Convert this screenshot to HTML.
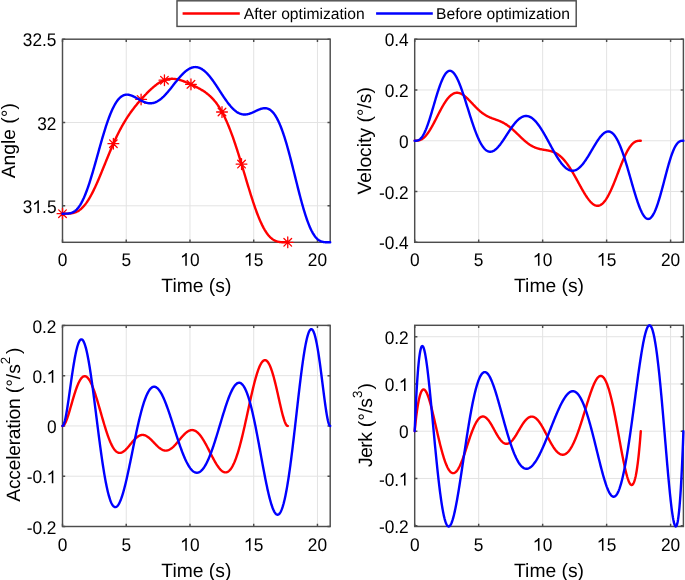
<!DOCTYPE html>
<html><head><meta charset="utf-8"><style>
html,body{margin:0;padding:0;background:#fff;}
svg{display:block;will-change:transform;}
text{font-family:"Liberation Sans", sans-serif; font-size:17.3px; fill:#000; text-rendering:geometricPrecision;}
</style></head><body>
<svg width="685" height="580" viewBox="0 0 685 580">
<rect width="685" height="580" fill="#fff"/>
<line x1="126.24" y1="39.2" x2="126.24" y2="242.3" stroke="#e3e3e3" stroke-width="1"/>
<line x1="189.98" y1="39.2" x2="189.98" y2="242.3" stroke="#e3e3e3" stroke-width="1"/>
<line x1="253.71" y1="39.2" x2="253.71" y2="242.3" stroke="#e3e3e3" stroke-width="1"/>
<line x1="317.45" y1="39.2" x2="317.45" y2="242.3" stroke="#e3e3e3" stroke-width="1"/>
<line x1="62.5" y1="205.80" x2="330.2" y2="205.80" stroke="#e3e3e3" stroke-width="1"/>
<line x1="62.5" y1="122.50" x2="330.2" y2="122.50" stroke="#e3e3e3" stroke-width="1"/>
<rect x="62.5" y="39.2" width="267.70" height="203.10" fill="none" stroke="#4d4d4d" stroke-width="1.45"/>
<path d="M62.50,242.3v-2.7M62.50,39.2v2.7M126.24,242.3v-2.7M126.24,39.2v2.7M189.98,242.3v-2.7M189.98,39.2v2.7M253.71,242.3v-2.7M253.71,39.2v2.7M317.45,242.3v-2.7M317.45,39.2v2.7M62.5,205.80h2.7M330.2,205.80h-2.7M62.5,122.50h2.7M330.2,122.50h-2.7M62.5,39.20h2.7M330.2,39.20h-2.7" stroke="#4d4d4d" stroke-width="1.45"/>
<clipPath id="csp1"><rect x="60.5" y="37.2" width="271.7" height="207.10000000000002"/></clipPath>
<polyline clip-path="url(#csp1)" points="62.50,213.68 62.88,213.68 63.25,213.68 63.63,213.68 64.00,213.68 64.38,213.68 64.76,213.68 65.13,213.68 65.51,213.67 65.88,213.67 66.26,213.66 66.64,213.66 67.01,213.65 67.39,213.64 67.76,213.63 68.14,213.61 68.52,213.60 68.89,213.58 69.27,213.55 69.64,213.52 70.02,213.49 70.40,213.45 70.77,213.41 71.15,213.36 71.53,213.30 71.90,213.24 72.28,213.17 72.65,213.10 73.03,213.02 73.41,212.93 73.78,212.83 74.16,212.72 74.53,212.60 74.91,212.48 75.29,212.35 75.66,212.20 76.04,212.05 76.41,211.88 76.79,211.71 77.17,211.52 77.54,211.32 77.92,211.11 78.29,210.89 78.67,210.65 79.05,210.41 79.42,210.15 79.80,209.87 80.17,209.59 80.55,209.29 80.93,208.98 81.30,208.65 81.68,208.31 82.05,207.96 82.43,207.59 82.81,207.21 83.18,206.81 83.56,206.40 83.93,205.98 84.31,205.54 84.69,205.09 85.06,204.62 85.44,204.14 85.81,203.64 86.19,203.13 86.57,202.61 86.94,202.07 87.32,201.52 87.69,200.95 88.07,200.37 88.45,199.77 88.82,199.17 89.20,198.55 89.58,197.91 89.95,197.26 90.33,196.60 90.70,195.93 91.08,195.24 91.46,194.54 91.83,193.83 92.21,193.11 92.58,192.38 92.96,191.63 93.34,190.88 93.71,190.11 94.09,189.33 94.46,188.54 94.84,187.75 95.22,186.94 95.59,186.12 95.97,185.30 96.34,184.46 96.72,183.62 97.10,182.77 97.47,181.91 97.85,181.05 98.22,180.18 98.60,179.30 98.98,178.42 99.35,177.53 99.73,176.63 100.10,175.73 100.48,174.83 100.86,173.92 101.23,173.01 101.61,172.09 101.98,171.17 102.36,170.25 102.74,169.33 103.11,168.40 103.49,167.48 103.86,166.55 104.24,165.62 104.62,164.69 104.99,163.76 105.37,162.83 105.75,161.90 106.12,160.98 106.50,160.05 106.87,159.13 107.25,158.20 107.63,157.28 108.00,156.37 108.38,155.45 108.75,154.54 109.13,153.63 109.51,152.73 109.88,151.83 110.26,150.93 110.63,150.04 111.01,149.16 111.39,148.28 111.76,147.40 112.14,146.53 112.51,145.67 112.89,144.81 113.27,143.95 113.64,143.11 114.02,142.27 114.39,141.44 114.77,140.61 115.15,139.79 115.52,138.98 115.90,138.17 116.27,137.38 116.65,136.59 117.03,135.80 117.40,135.03 117.78,134.26 118.15,133.50 118.53,132.75 118.91,132.00 119.28,131.27 119.66,130.54 120.03,129.82 120.41,129.10 120.79,128.40 121.16,127.70 121.54,127.01 121.91,126.32 122.29,125.65 122.67,124.98 123.04,124.32 123.42,123.67 123.80,123.02 124.17,122.39 124.55,121.76 124.92,121.13 125.30,120.52 125.68,119.91 126.05,119.30 126.43,118.71 126.80,118.12 127.18,117.54 127.56,116.96 127.93,116.39 128.31,115.83 128.68,115.27 129.06,114.72 129.44,114.17 129.81,113.63 130.19,113.09 130.56,112.56 130.94,112.04 131.32,111.52 131.69,111.01 132.07,110.50 132.44,109.99 132.82,109.49 133.20,109.00 133.57,108.50 133.95,108.02 134.32,107.53 134.70,107.06 135.08,106.58 135.45,106.11 135.83,105.64 136.20,105.18 136.58,104.71 136.96,104.26 137.33,103.80 137.71,103.35 138.08,102.90 138.46,102.46 138.84,102.02 139.21,101.58 139.59,101.14 139.97,100.71 140.34,100.27 140.72,99.85 141.09,99.42 141.47,99.00 141.85,98.58 142.22,98.16 142.60,97.74 142.97,97.33 143.35,96.92 143.73,96.51 144.10,96.11 144.48,95.71 144.85,95.31 145.23,94.91 145.61,94.52 145.98,94.12 146.36,93.74 146.73,93.35 147.11,92.97 147.49,92.59 147.86,92.21 148.24,91.84 148.61,91.47 148.99,91.10 149.37,90.74 149.74,90.38 150.12,90.02 150.49,89.67 150.87,89.32 151.25,88.97 151.62,88.63 152.00,88.30 152.37,87.96 152.75,87.64 153.13,87.31 153.50,86.99 153.88,86.68 154.25,86.37 154.63,86.06 155.01,85.76 155.38,85.47 155.76,85.18 156.13,84.90 156.51,84.62 156.89,84.34 157.26,84.08 157.64,83.82 158.02,83.56 158.39,83.31 158.77,83.07 159.14,82.83 159.52,82.60 159.90,82.37 160.27,82.15 160.65,81.94 161.02,81.74 161.40,81.54 161.78,81.35 162.15,81.16 162.53,80.98 162.90,80.81 163.28,80.65 163.66,80.49 164.03,80.34 164.41,80.20 164.78,80.06 165.16,79.93 165.54,79.81 165.91,79.69 166.29,79.59 166.66,79.48 167.04,79.39 167.42,79.30 167.79,79.22 168.17,79.15 168.54,79.09 168.92,79.03 169.30,78.98 169.67,78.93 170.05,78.89 170.42,78.86 170.80,78.84 171.18,78.82 171.55,78.81 171.93,78.80 172.30,78.80 172.68,78.81 173.06,78.83 173.43,78.85 173.81,78.87 174.19,78.90 174.56,78.94 174.94,78.98 175.31,79.03 175.69,79.09 176.07,79.15 176.44,79.21 176.82,79.28 177.19,79.35 177.57,79.43 177.95,79.52 178.32,79.61 178.70,79.70 179.07,79.80 179.45,79.90 179.83,80.00 180.20,80.11 180.58,80.22 180.95,80.34 181.33,80.46 181.71,80.58 182.08,80.71 182.46,80.84 182.83,80.97 183.21,81.11 183.59,81.25 183.96,81.39 184.34,81.53 184.71,81.68 185.09,81.82 185.47,81.97 185.84,82.13 186.22,82.28 186.59,82.44 186.97,82.59 187.35,82.75 187.72,82.92 188.10,83.08 188.47,83.24 188.85,83.41 189.23,83.58 189.60,83.75 189.98,83.92 190.36,84.09 190.73,84.26 191.11,84.43 191.48,84.61 191.86,84.79 192.24,84.96 192.61,85.14 192.99,85.32 193.36,85.50 193.74,85.69 194.12,85.87 194.49,86.05 194.87,86.24 195.24,86.43 195.62,86.62 196.00,86.81 196.37,87.00 196.75,87.19 197.12,87.39 197.50,87.59 197.88,87.78 198.25,87.99 198.63,88.19 199.00,88.39 199.38,88.60 199.76,88.81 200.13,89.02 200.51,89.24 200.88,89.46 201.26,89.68 201.64,89.90 202.01,90.13 202.39,90.36 202.76,90.60 203.14,90.84 203.52,91.08 203.89,91.32 204.27,91.57 204.64,91.83 205.02,92.09 205.40,92.35 205.77,92.62 206.15,92.90 206.52,93.18 206.90,93.47 207.28,93.76 207.65,94.06 208.03,94.36 208.41,94.67 208.78,94.99 209.16,95.31 209.53,95.65 209.91,95.98 210.29,96.33 210.66,96.69 211.04,97.05 211.41,97.42 211.79,97.80 212.17,98.18 212.54,98.58 212.92,98.99 213.29,99.40 213.67,99.82 214.05,100.26 214.42,100.70 214.80,101.15 215.17,101.62 215.55,102.09 215.93,102.58 216.30,103.07 216.68,103.58 217.05,104.09 217.43,104.62 217.81,105.16 218.18,105.71 218.56,106.28 218.93,106.85 219.31,107.44 219.69,108.04 220.06,108.65 220.44,109.28 220.81,109.91 221.19,110.56 221.57,111.23 221.94,111.90 222.32,112.59 222.69,113.29 223.07,114.01 223.45,114.74 223.82,115.48 224.20,116.23 224.58,117.00 224.95,117.78 225.33,118.57 225.70,119.38 226.08,120.20 226.46,121.04 226.83,121.88 227.21,122.75 227.58,123.62 227.96,124.51 228.34,125.41 228.71,126.32 229.09,127.25 229.46,128.19 229.84,129.14 230.22,130.11 230.59,131.09 230.97,132.08 231.34,133.08 231.72,134.10 232.10,135.12 232.47,136.16 232.85,137.21 233.22,138.27 233.60,139.35 233.98,140.43 234.35,141.53 234.73,142.63 235.10,143.75 235.48,144.87 235.86,146.01 236.23,147.15 236.61,148.31 236.98,149.47 237.36,150.64 237.74,151.82 238.11,153.01 238.49,154.20 238.86,155.40 239.24,156.61 239.62,157.83 239.99,159.05 240.37,160.27 240.74,161.50 241.12,162.74 241.50,163.98 241.87,165.23 242.25,166.47 242.63,167.72 243.00,168.98 243.38,170.23 243.75,171.49 244.13,172.75 244.51,174.01 244.88,175.27 245.26,176.52 245.63,177.78 246.01,179.04 246.39,180.29 246.76,181.55 247.14,182.80 247.51,184.04 247.89,185.29 248.27,186.53 248.64,187.76 249.02,188.99 249.39,190.21 249.77,191.43 250.15,192.64 250.52,193.84 250.90,195.04 251.27,196.22 251.65,197.40 252.03,198.57 252.40,199.73 252.78,200.88 253.15,202.02 253.53,203.15 253.91,204.26 254.28,205.37 254.66,206.46 255.03,207.54 255.41,208.60 255.79,209.66 256.16,210.70 256.54,211.72 256.91,212.73 257.29,213.73 257.67,214.70 258.04,215.67 258.42,216.62 258.80,217.55 259.17,218.46 259.55,219.36 259.92,220.24 260.30,221.11 260.68,221.95 261.05,222.78 261.43,223.59 261.80,224.38 262.18,225.16 262.56,225.91 262.93,226.65 263.31,227.37 263.68,228.07 264.06,228.75 264.44,229.41 264.81,230.05 265.19,230.67 265.56,231.28 265.94,231.86 266.32,232.43 266.69,232.98 267.07,233.51 267.44,234.02 267.82,234.51 268.20,234.98 268.57,235.44 268.95,235.87 269.32,236.29 269.70,236.69 270.08,237.08 270.45,237.44 270.83,237.79 271.20,238.13 271.58,238.44 271.96,238.74 272.33,239.03 272.71,239.30 273.08,239.55 273.46,239.79 273.84,240.01 274.21,240.23 274.59,240.42 274.96,240.61 275.34,240.78 275.72,240.94 276.09,241.08 276.47,241.22 276.85,241.35 277.22,241.46 277.60,241.56 277.97,241.66 278.35,241.75 278.73,241.82 279.10,241.89 279.48,241.96 279.85,242.01 280.23,242.06 280.61,242.10 280.98,242.14 281.36,242.17 281.73,242.20 282.11,242.22 282.49,242.24 282.86,242.25 283.24,242.27 283.61,242.28 283.99,242.28 284.37,242.29 284.74,242.29 285.12,242.30 285.49,242.30 285.87,242.30 286.25,242.30 286.62,242.30 287.00,242.30 287.37,242.30 287.75,242.30" fill="none" stroke="#ff0000" stroke-width="2.4" stroke-linejoin="round" stroke-linecap="round"/>
<path d="M57.10,213.68H67.90M62.50,208.28V219.08M58.68,209.86L66.32,217.50M58.68,217.50L66.32,209.86M107.98,143.71H118.78M113.38,138.31V149.11M109.56,139.89L117.19,147.53M109.56,147.53L117.19,139.89M135.69,99.43H146.49M141.09,94.03V104.83M137.27,95.61L144.91,103.24M137.27,103.24L144.91,95.61M159.04,80.18H169.84M164.44,74.78V85.58M160.62,76.36L168.26,84.00M160.62,84.00L168.26,76.36M185.56,84.36H196.36M190.96,78.96V89.76M187.14,80.55L194.78,88.18M187.14,88.18L194.78,80.55M216.60,112.00H227.40M222.00,106.60V117.40M218.18,108.19L225.82,115.82M218.18,115.82L225.82,108.19M236.13,164.08H246.93M241.53,158.68V169.48M237.71,160.26L245.35,167.90M237.71,167.90L245.35,160.26M282.35,242.30H293.15M287.75,236.90V247.70M283.93,238.48L291.57,246.12M283.93,246.12L291.57,238.48" stroke="#ff0000" stroke-width="1.3" stroke-linecap="round" fill="none"/>
<polyline clip-path="url(#csp1)" points="62.50,213.68 62.88,213.68 63.27,213.68 63.65,213.68 64.03,213.68 64.41,213.68 64.80,213.67 65.18,213.67 65.56,213.66 65.95,213.66 66.33,213.64 66.71,213.63 67.10,213.61 67.48,213.59 67.86,213.56 68.24,213.52 68.63,213.48 69.01,213.42 69.39,213.36 69.78,213.29 70.16,213.21 70.54,213.12 70.93,213.02 71.31,212.90 71.69,212.77 72.07,212.62 72.46,212.46 72.84,212.29 73.22,212.09 73.61,211.88 73.99,211.65 74.37,211.41 74.76,211.14 75.14,210.85 75.52,210.54 75.90,210.21 76.29,209.86 76.67,209.49 77.05,209.09 77.44,208.67 77.82,208.22 78.20,207.76 78.58,207.26 78.97,206.74 79.35,206.20 79.73,205.63 80.12,205.04 80.50,204.42 80.88,203.77 81.27,203.10 81.65,202.40 82.03,201.68 82.41,200.93 82.80,200.16 83.18,199.36 83.56,198.53 83.95,197.68 84.33,196.80 84.71,195.90 85.10,194.97 85.48,194.03 85.86,193.05 86.24,192.05 86.63,191.03 87.01,189.99 87.39,188.93 87.78,187.84 88.16,186.74 88.54,185.61 88.93,184.46 89.31,183.30 89.69,182.12 90.07,180.92 90.46,179.70 90.84,178.46 91.22,177.22 91.61,175.95 91.99,174.68 92.37,173.39 92.76,172.08 93.14,170.77 93.52,169.45 93.90,168.11 94.29,166.77 94.67,165.42 95.05,164.07 95.44,162.70 95.82,161.34 96.20,159.96 96.58,158.59 96.97,157.21 97.35,155.83 97.73,154.46 98.12,153.08 98.50,151.70 98.88,150.32 99.27,148.95 99.65,147.59 100.03,146.22 100.41,144.87 100.80,143.51 101.18,142.17 101.56,140.84 101.95,139.51 102.33,138.19 102.71,136.89 103.10,135.59 103.48,134.31 103.86,133.04 104.24,131.79 104.63,130.55 105.01,129.32 105.39,128.11 105.78,126.92 106.16,125.74 106.54,124.58 106.93,123.43 107.31,122.31 107.69,121.21 108.07,120.12 108.46,119.06 108.84,118.01 109.22,116.99 109.61,115.98 109.99,115.00 110.37,114.04 110.75,113.11 111.14,112.19 111.52,111.30 111.90,110.43 112.29,109.59 112.67,108.76 113.05,107.97 113.44,107.19 113.82,106.44 114.20,105.72 114.58,105.01 114.97,104.34 115.35,103.68 115.73,103.05 116.12,102.45 116.50,101.87 116.88,101.31 117.27,100.78 117.65,100.27 118.03,99.79 118.41,99.33 118.80,98.89 119.18,98.48 119.56,98.08 119.95,97.72 120.33,97.37 120.71,97.05 121.10,96.75 121.48,96.47 121.86,96.21 122.24,95.98 122.63,95.76 123.01,95.57 123.39,95.39 123.78,95.24 124.16,95.10 124.54,94.98 124.93,94.88 125.31,94.80 125.69,94.74 126.07,94.70 126.46,94.67 126.84,94.65 127.22,94.65 127.61,94.67 127.99,94.70 128.37,94.75 128.75,94.81 129.14,94.88 129.52,94.97 129.90,95.06 130.29,95.17 130.67,95.29 131.05,95.42 131.44,95.56 131.82,95.70 132.20,95.86 132.58,96.02 132.97,96.19 133.35,96.37 133.73,96.56 134.12,96.75 134.50,96.94 134.88,97.14 135.27,97.35 135.65,97.55 136.03,97.76 136.41,97.98 136.80,98.19 137.18,98.41 137.56,98.62 137.95,98.84 138.33,99.06 138.71,99.27 139.10,99.49 139.48,99.70 139.86,99.91 140.24,100.12 140.63,100.32 141.01,100.52 141.39,100.72 141.78,100.91 142.16,101.10 142.54,101.28 142.92,101.46 143.31,101.63 143.69,101.80 144.07,101.95 144.46,102.10 144.84,102.25 145.22,102.38 145.61,102.51 145.99,102.63 146.37,102.74 146.75,102.84 147.14,102.93 147.52,103.01 147.90,103.08 148.29,103.14 148.67,103.20 149.05,103.24 149.44,103.27 149.82,103.29 150.20,103.30 150.58,103.30 150.97,103.28 151.35,103.26 151.73,103.22 152.12,103.18 152.50,103.12 152.88,103.05 153.27,102.97 153.65,102.87 154.03,102.77 154.41,102.65 154.80,102.52 155.18,102.38 155.56,102.23 155.95,102.07 156.33,101.89 156.71,101.70 157.09,101.50 157.48,101.30 157.86,101.07 158.24,100.84 158.63,100.60 159.01,100.34 159.39,100.08 159.78,99.80 160.16,99.52 160.54,99.22 160.92,98.92 161.31,98.60 161.69,98.27 162.07,97.94 162.46,97.59 162.84,97.24 163.22,96.88 163.61,96.51 163.99,96.13 164.37,95.74 164.75,95.34 165.14,94.94 165.52,94.53 165.90,94.11 166.29,93.69 166.67,93.26 167.05,92.82 167.44,92.38 167.82,91.93 168.20,91.48 168.58,91.02 168.97,90.56 169.35,90.10 169.73,89.63 170.12,89.15 170.50,88.68 170.88,88.20 171.27,87.72 171.65,87.23 172.03,86.75 172.41,86.26 172.80,85.78 173.18,85.29 173.56,84.80 173.95,84.31 174.33,83.82 174.71,83.34 175.09,82.85 175.48,82.37 175.86,81.88 176.24,81.40 176.63,80.93 177.01,80.45 177.39,79.98 177.78,79.51 178.16,79.05 178.54,78.59 178.92,78.14 179.31,77.69 179.69,77.24 180.07,76.81 180.46,76.37 180.84,75.95 181.22,75.53 181.61,75.11 181.99,74.71 182.37,74.31 182.75,73.92 183.14,73.54 183.52,73.17 183.90,72.80 184.29,72.45 184.67,72.10 185.05,71.77 185.44,71.44 185.82,71.12 186.20,70.82 186.58,70.52 186.97,70.24 187.35,69.96 187.73,69.70 188.12,69.45 188.50,69.21 188.88,68.98 189.26,68.77 189.65,68.56 190.03,68.37 190.41,68.19 190.80,68.03 191.18,67.87 191.56,67.73 191.95,67.61 192.33,67.49 192.71,67.39 193.09,67.31 193.48,67.23 193.86,67.17 194.24,67.13 194.63,67.10 195.01,67.08 195.39,67.07 195.78,67.08 196.16,67.11 196.54,67.14 196.92,67.20 197.31,67.26 197.69,67.34 198.07,67.43 198.46,67.54 198.84,67.66 199.22,67.80 199.61,67.95 199.99,68.11 200.37,68.28 200.75,68.47 201.14,68.68 201.52,68.90 201.90,69.13 202.29,69.37 202.67,69.63 203.05,69.89 203.44,70.18 203.82,70.47 204.20,70.78 204.58,71.10 204.97,71.43 205.35,71.77 205.73,72.13 206.12,72.50 206.50,72.88 206.88,73.27 207.26,73.67 207.65,74.08 208.03,74.50 208.41,74.93 208.80,75.37 209.18,75.82 209.56,76.29 209.95,76.76 210.33,77.23 210.71,77.72 211.09,78.22 211.48,78.72 211.86,79.23 212.24,79.75 212.63,80.28 213.01,80.81 213.39,81.35 213.78,81.89 214.16,82.44 214.54,83.00 214.92,83.56 215.31,84.12 215.69,84.69 216.07,85.26 216.46,85.84 216.84,86.42 217.22,87.00 217.61,87.59 217.99,88.17 218.37,88.76 218.75,89.35 219.14,89.94 219.52,90.54 219.90,91.13 220.29,91.72 220.67,92.31 221.05,92.90 221.43,93.49 221.82,94.07 222.20,94.66 222.58,95.24 222.97,95.82 223.35,96.39 223.73,96.97 224.12,97.53 224.50,98.10 224.88,98.66 225.26,99.21 225.65,99.76 226.03,100.30 226.41,100.84 226.80,101.37 227.18,101.89 227.56,102.41 227.95,102.91 228.33,103.41 228.71,103.91 229.09,104.39 229.48,104.86 229.86,105.33 230.24,105.79 230.63,106.23 231.01,106.67 231.39,107.10 231.78,107.52 232.16,107.92 232.54,108.32 232.92,108.70 233.31,109.08 233.69,109.44 234.07,109.79 234.46,110.13 234.84,110.45 235.22,110.77 235.61,111.07 235.99,111.36 236.37,111.64 236.75,111.90 237.14,112.16 237.52,112.40 237.90,112.62 238.29,112.84 238.67,113.04 239.05,113.23 239.43,113.40 239.82,113.56 240.20,113.71 240.58,113.85 240.97,113.97 241.35,114.08 241.73,114.18 242.12,114.27 242.50,114.34 242.88,114.40 243.26,114.45 243.65,114.49 244.03,114.51 244.41,114.53 244.80,114.53 245.18,114.52 245.56,114.50 245.95,114.46 246.33,114.42 246.71,114.37 247.09,114.31 247.48,114.23 247.86,114.15 248.24,114.06 248.63,113.96 249.01,113.85 249.39,113.74 249.78,113.62 250.16,113.48 250.54,113.35 250.92,113.20 251.31,113.05 251.69,112.90 252.07,112.74 252.46,112.57 252.84,112.40 253.22,112.23 253.60,112.05 253.99,111.88 254.37,111.70 254.75,111.51 255.14,111.33 255.52,111.15 255.90,110.96 256.29,110.78 256.67,110.60 257.05,110.42 257.43,110.25 257.82,110.07 258.20,109.90 258.58,109.74 258.97,109.58 259.35,109.42 259.73,109.27 260.12,109.13 260.50,109.00 260.88,108.87 261.26,108.75 261.65,108.65 262.03,108.55 262.41,108.46 262.80,108.38 263.18,108.32 263.56,108.27 263.95,108.23 264.33,108.20 264.71,108.19 265.09,108.19 265.48,108.21 265.86,108.25 266.24,108.30 266.63,108.37 267.01,108.45 267.39,108.56 267.77,108.68 268.16,108.82 268.54,108.99 268.92,109.17 269.31,109.37 269.69,109.60 270.07,109.84 270.46,110.11 270.84,110.40 271.22,110.71 271.60,111.05 271.99,111.41 272.37,111.80 272.75,112.20 273.14,112.64 273.52,113.10 273.90,113.58 274.29,114.09 274.67,114.62 275.05,115.18 275.43,115.77 275.82,116.38 276.20,117.02 276.58,117.69 276.97,118.38 277.35,119.10 277.73,119.84 278.12,120.61 278.50,121.41 278.88,122.23 279.26,123.08 279.65,123.96 280.03,124.86 280.41,125.79 280.80,126.75 281.18,127.73 281.56,128.73 281.95,129.77 282.33,130.82 282.71,131.90 283.09,133.01 283.48,134.13 283.86,135.29 284.24,136.46 284.63,137.66 285.01,138.88 285.39,140.12 285.77,141.38 286.16,142.66 286.54,143.96 286.92,145.28 287.31,146.62 287.69,147.98 288.07,149.35 288.46,150.74 288.84,152.15 289.22,153.57 289.60,155.00 289.99,156.45 290.37,157.91 290.75,159.39 291.14,160.87 291.52,162.36 291.90,163.87 292.29,165.38 292.67,166.90 293.05,168.42 293.43,169.95 293.82,171.48 294.20,173.02 294.58,174.56 294.97,176.10 295.35,177.64 295.73,179.18 296.12,180.72 296.50,182.26 296.88,183.79 297.26,185.32 297.65,186.84 298.03,188.36 298.41,189.87 298.80,191.37 299.18,192.86 299.56,194.34 299.94,195.81 300.33,197.26 300.71,198.70 301.09,200.13 301.48,201.54 301.86,202.94 302.24,204.32 302.63,205.68 303.01,207.02 303.39,208.34 303.77,209.64 304.16,210.92 304.54,212.18 304.92,213.42 305.31,214.63 305.69,215.82 306.07,216.99 306.46,218.13 306.84,219.24 307.22,220.33 307.60,221.39 307.99,222.42 308.37,223.43 308.75,224.41 309.14,225.36 309.52,226.29 309.90,227.18 310.29,228.05 310.67,228.88 311.05,229.69 311.43,230.47 311.82,231.22 312.20,231.95 312.58,232.64 312.97,233.30 313.35,233.94 313.73,234.55 314.12,235.12 314.50,235.68 314.88,236.20 315.26,236.70 315.65,237.17 316.03,237.61 316.41,238.03 316.80,238.42 317.18,238.79 317.56,239.14 317.94,239.46 318.33,239.76 318.71,240.04 319.09,240.29 319.48,240.53 319.86,240.74 320.24,240.94 320.63,241.12 321.01,241.28 321.39,241.43 321.77,241.56 322.16,241.68 322.54,241.78 322.92,241.87 323.31,241.95 323.69,242.02 324.07,242.07 324.46,242.12 324.84,242.16 325.22,242.20 325.60,242.22 325.99,242.25 326.37,242.26 326.75,242.27 327.14,242.28 327.52,242.29 327.90,242.29 328.29,242.30 328.67,242.30 329.05,242.30 329.43,242.30 329.82,242.30 330.20,242.30" fill="none" stroke="#0000ff" stroke-width="2.4" stroke-linejoin="round" stroke-linecap="round"/>
<g transform="translate(0,265.80) scale(1,1.06)"><text x="57.69" y="0">0</text></g>
<g transform="translate(0,265.80) scale(1,1.06)"><text x="121.43" y="0">5</text></g>
<g transform="translate(0,265.80) scale(1,1.06)"><text x="180.35" y="0"><tspan style="fill:none">1</tspan>0</text><path transform="translate(180.35,0) scale(0.00845,-0.00845)" d="M763,0L583,0L583,1120Q518,1062 412,1004Q306,946 190,912L190,1085Q373,1160 486,1250Q590,1340 636,1420L763,1420Z"/></g>
<g transform="translate(0,265.80) scale(1,1.06)"><text x="244.09" y="0"><tspan style="fill:none">1</tspan>5</text><path transform="translate(244.09,0) scale(0.00845,-0.00845)" d="M763,0L583,0L583,1120Q518,1062 412,1004Q306,946 190,912L190,1085Q373,1160 486,1250Q590,1340 636,1420L763,1420Z"/></g>
<g transform="translate(0,265.80) scale(1,1.06)"><text x="307.83" y="0">20</text></g>
<g transform="translate(0,212.90) scale(1,1.06)"><text x="22.83" y="0">3<tspan style="fill:none">1</tspan>.5</text><path transform="translate(32.45,0) scale(0.00845,-0.00845)" d="M763,0L583,0L583,1120Q518,1062 412,1004Q306,946 190,912L190,1085Q373,1160 486,1250Q590,1340 636,1420L763,1420Z"/></g>
<g transform="translate(0,129.60) scale(1,1.06)"><text x="37.26" y="0">32</text></g>
<g transform="translate(0,46.30) scale(1,1.06)"><text x="22.83" y="0">32.5</text></g>
<text x="196.35" y="291.90" text-anchor="middle" style="font-size:19.3px">Time (s)</text>
<text transform="translate(15.20,140.75) rotate(-90)" text-anchor="middle" style="font-size:19.3px">Angle (°)</text>
<line x1="478.68" y1="39.2" x2="478.68" y2="242.3" stroke="#e3e3e3" stroke-width="1"/>
<line x1="542.65" y1="39.2" x2="542.65" y2="242.3" stroke="#e3e3e3" stroke-width="1"/>
<line x1="606.63" y1="39.2" x2="606.63" y2="242.3" stroke="#e3e3e3" stroke-width="1"/>
<line x1="670.60" y1="39.2" x2="670.60" y2="242.3" stroke="#e3e3e3" stroke-width="1"/>
<line x1="414.7" y1="191.53" x2="683.4" y2="191.53" stroke="#e3e3e3" stroke-width="1"/>
<line x1="414.7" y1="140.75" x2="683.4" y2="140.75" stroke="#e3e3e3" stroke-width="1"/>
<line x1="414.7" y1="89.98" x2="683.4" y2="89.98" stroke="#e3e3e3" stroke-width="1"/>
<rect x="414.7" y="39.2" width="268.70" height="203.10" fill="none" stroke="#4d4d4d" stroke-width="1.45"/>
<path d="M414.70,242.3v-2.7M414.70,39.2v2.7M478.68,242.3v-2.7M478.68,39.2v2.7M542.65,242.3v-2.7M542.65,39.2v2.7M606.63,242.3v-2.7M606.63,39.2v2.7M670.60,242.3v-2.7M670.60,39.2v2.7M414.7,242.30h2.7M683.4,242.30h-2.7M414.7,191.53h2.7M683.4,191.53h-2.7M414.7,140.75h2.7M683.4,140.75h-2.7M414.7,89.98h2.7M683.4,89.98h-2.7M414.7,39.20h2.7M683.4,39.20h-2.7" stroke="#4d4d4d" stroke-width="1.45"/>
<clipPath id="csp2"><rect x="412.7" y="37.2" width="272.7" height="207.10000000000002"/></clipPath>
<polyline clip-path="url(#csp2)" points="414.70,140.75 415.08,140.75 415.45,140.75 415.83,140.74 416.21,140.73 416.59,140.71 416.96,140.69 417.34,140.65 417.72,140.61 418.10,140.55 418.47,140.48 418.85,140.40 419.23,140.30 419.61,140.18 419.98,140.05 420.36,139.91 420.74,139.74 421.12,139.56 421.49,139.36 421.87,139.14 422.25,138.90 422.63,138.64 423.00,138.37 423.38,138.07 423.76,137.76 424.14,137.42 424.51,137.07 424.89,136.69 425.27,136.30 425.65,135.89 426.02,135.46 426.40,135.01 426.78,134.54 427.16,134.05 427.53,133.55 427.91,133.03 428.29,132.49 428.67,131.94 429.04,131.37 429.42,130.79 429.80,130.19 430.18,129.58 430.55,128.95 430.93,128.32 431.31,127.67 431.69,127.01 432.06,126.34 432.44,125.66 432.82,124.96 433.19,124.27 433.57,123.56 433.95,122.85 434.33,122.13 434.70,121.40 435.08,120.67 435.46,119.94 435.84,119.20 436.21,118.46 436.59,117.72 436.97,116.98 437.35,116.24 437.72,115.50 438.10,114.76 438.48,114.03 438.86,113.29 439.23,112.56 439.61,111.84 439.99,111.12 440.37,110.40 440.74,109.70 441.12,109.00 441.50,108.30 441.88,107.62 442.25,106.95 442.63,106.28 443.01,105.63 443.39,104.99 443.76,104.36 444.14,103.74 444.52,103.13 444.90,102.54 445.27,101.96 445.65,101.40 446.03,100.85 446.41,100.32 446.78,99.80 447.16,99.30 447.54,98.81 447.92,98.35 448.29,97.89 448.67,97.46 449.05,97.05 449.43,96.65 449.80,96.27 450.18,95.91 450.56,95.57 450.94,95.25 451.31,94.95 451.69,94.66 452.07,94.40 452.44,94.16 452.82,93.93 453.20,93.73 453.58,93.54 453.95,93.37 454.33,93.23 454.71,93.10 455.09,92.99 455.46,92.91 455.84,92.84 456.22,92.79 456.60,92.76 456.97,92.74 457.35,92.75 457.73,92.77 458.11,92.82 458.48,92.88 458.86,92.95 459.24,93.05 459.62,93.16 459.99,93.29 460.37,93.43 460.75,93.59 461.13,93.76 461.50,93.95 461.88,94.16 462.26,94.37 462.64,94.61 463.01,94.85 463.39,95.11 463.77,95.38 464.15,95.66 464.52,95.95 464.90,96.25 465.28,96.56 465.66,96.88 466.03,97.21 466.41,97.55 466.79,97.90 467.17,98.25 467.54,98.61 467.92,98.98 468.30,99.35 468.68,99.73 469.05,100.12 469.43,100.50 469.81,100.89 470.18,101.29 470.56,101.68 470.94,102.08 471.32,102.48 471.69,102.88 472.07,103.28 472.45,103.68 472.83,104.09 473.20,104.49 473.58,104.88 473.96,105.28 474.34,105.68 474.71,106.07 475.09,106.46 475.47,106.85 475.85,107.23 476.22,107.61 476.60,107.99 476.98,108.36 477.36,108.73 477.73,109.09 478.11,109.45 478.49,109.80 478.87,110.14 479.24,110.48 479.62,110.82 480.00,111.14 480.38,111.46 480.75,111.78 481.13,112.09 481.51,112.39 481.89,112.68 482.26,112.97 482.64,113.25 483.02,113.52 483.40,113.79 483.77,114.05 484.15,114.30 484.53,114.55 484.91,114.79 485.28,115.02 485.66,115.25 486.04,115.47 486.42,115.68 486.79,115.89 487.17,116.09 487.55,116.29 487.93,116.48 488.30,116.67 488.68,116.85 489.06,117.02 489.43,117.19 489.81,117.36 490.19,117.52 490.57,117.67 490.94,117.83 491.32,117.98 491.70,118.13 492.08,118.27 492.45,118.41 492.83,118.55 493.21,118.69 493.59,118.83 493.96,118.96 494.34,119.10 494.72,119.23 495.10,119.36 495.47,119.50 495.85,119.63 496.23,119.77 496.61,119.90 496.98,120.04 497.36,120.18 497.74,120.32 498.12,120.46 498.49,120.60 498.87,120.75 499.25,120.90 499.63,121.06 500.00,121.22 500.38,121.38 500.76,121.54 501.14,121.71 501.51,121.89 501.89,122.07 502.27,122.25 502.65,122.44 503.02,122.63 503.40,122.83 503.78,123.04 504.16,123.24 504.53,123.46 504.91,123.68 505.29,123.91 505.67,124.14 506.04,124.38 506.42,124.62 506.80,124.87 507.17,125.13 507.55,125.39 507.93,125.66 508.31,125.93 508.68,126.21 509.06,126.50 509.44,126.79 509.82,127.09 510.19,127.39 510.57,127.69 510.95,128.01 511.33,128.32 511.70,128.64 512.08,128.97 512.46,129.30 512.84,129.64 513.21,129.97 513.59,130.32 513.97,130.66 514.35,131.01 514.72,131.36 515.10,131.72 515.48,132.08 515.86,132.44 516.23,132.80 516.61,133.16 516.99,133.53 517.37,133.89 517.74,134.26 518.12,134.63 518.50,134.99 518.88,135.36 519.25,135.73 519.63,136.09 520.01,136.46 520.39,136.82 520.76,137.18 521.14,137.54 521.52,137.90 521.90,138.26 522.27,138.61 522.65,138.96 523.03,139.31 523.41,139.65 523.78,139.99 524.16,140.32 524.54,140.65 524.92,140.98 525.29,141.30 525.67,141.62 526.05,141.93 526.42,142.23 526.80,142.53 527.18,142.83 527.56,143.12 527.93,143.40 528.31,143.68 528.69,143.95 529.07,144.21 529.44,144.47 529.82,144.72 530.20,144.96 530.58,145.20 530.95,145.43 531.33,145.66 531.71,145.87 532.09,146.08 532.46,146.29 532.84,146.48 533.22,146.67 533.60,146.86 533.97,147.03 534.35,147.20 534.73,147.37 535.11,147.52 535.48,147.67 535.86,147.82 536.24,147.96 536.62,148.09 536.99,148.22 537.37,148.34 537.75,148.45 538.13,148.57 538.50,148.67 538.88,148.77 539.26,148.87 539.64,148.96 540.01,149.05 540.39,149.13 540.77,149.21 541.15,149.29 541.52,149.37 541.90,149.44 542.28,149.51 542.66,149.57 543.03,149.64 543.41,149.70 543.79,149.77 544.16,149.83 544.54,149.89 544.92,149.95 545.30,150.01 545.67,150.07 546.05,150.14 546.43,150.20 546.81,150.27 547.18,150.33 547.56,150.40 547.94,150.48 548.32,150.55 548.69,150.63 549.07,150.71 549.45,150.80 549.83,150.89 550.20,150.98 550.58,151.08 550.96,151.19 551.34,151.30 551.71,151.42 552.09,151.54 552.47,151.67 552.85,151.80 553.22,151.95 553.60,152.10 553.98,152.26 554.36,152.42 554.73,152.59 555.11,152.78 555.49,152.97 555.87,153.17 556.24,153.37 556.62,153.59 557.00,153.82 557.38,154.06 557.75,154.30 558.13,154.56 558.51,154.82 558.89,155.10 559.26,155.39 559.64,155.69 560.02,155.99 560.40,156.31 560.77,156.64 561.15,156.98 561.53,157.33 561.91,157.69 562.28,158.07 562.66,158.45 563.04,158.85 563.41,159.25 563.79,159.67 564.17,160.10 564.55,160.54 564.92,160.99 565.30,161.45 565.68,161.92 566.06,162.40 566.43,162.89 566.81,163.39 567.19,163.91 567.57,164.43 567.94,164.96 568.32,165.50 568.70,166.06 569.08,166.62 569.45,167.19 569.83,167.77 570.21,168.35 570.59,168.95 570.96,169.56 571.34,170.17 571.72,170.79 572.10,171.41 572.47,172.05 572.85,172.69 573.23,173.34 573.61,173.99 573.98,174.65 574.36,175.31 574.74,175.98 575.12,176.65 575.49,177.33 575.87,178.01 576.25,178.69 576.63,179.37 577.00,180.06 577.38,180.75 577.76,181.44 578.14,182.13 578.51,182.82 578.89,183.52 579.27,184.21 579.65,184.90 580.02,185.58 580.40,186.27 580.78,186.95 581.15,187.63 581.53,188.31 581.91,188.98 582.29,189.64 582.66,190.30 583.04,190.96 583.42,191.60 583.80,192.24 584.17,192.88 584.55,193.50 584.93,194.12 585.31,194.72 585.68,195.32 586.06,195.90 586.44,196.47 586.82,197.04 587.19,197.58 587.57,198.12 587.95,198.64 588.33,199.15 588.70,199.64 589.08,200.12 589.46,200.59 589.84,201.03 590.21,201.46 590.59,201.87 590.97,202.27 591.35,202.64 591.72,203.00 592.10,203.34 592.48,203.66 592.86,203.95 593.23,204.23 593.61,204.48 593.99,204.72 594.37,204.93 594.74,205.12 595.12,205.29 595.50,205.43 595.88,205.55 596.25,205.65 596.63,205.72 597.01,205.77 597.39,205.79 597.76,205.79 598.14,205.76 598.52,205.71 598.90,205.63 599.27,205.53 599.65,205.40 600.03,205.24 600.40,205.06 600.78,204.86 601.16,204.62 601.54,204.37 601.91,204.08 602.29,203.77 602.67,203.44 603.05,203.08 603.42,202.69 603.80,202.28 604.18,201.84 604.56,201.38 604.93,200.90 605.31,200.39 605.69,199.86 606.07,199.30 606.44,198.72 606.82,198.12 607.20,197.49 607.58,196.85 607.95,196.18 608.33,195.49 608.71,194.78 609.09,194.05 609.46,193.30 609.84,192.54 610.22,191.75 610.60,190.95 610.97,190.13 611.35,189.30 611.73,188.45 612.11,187.58 612.48,186.70 612.86,185.81 613.24,184.91 613.62,184.00 613.99,183.07 614.37,182.14 614.75,181.20 615.13,180.25 615.50,179.29 615.88,178.32 616.26,177.36 616.64,176.38 617.01,175.41 617.39,174.43 617.77,173.45 618.14,172.47 618.52,171.49 618.90,170.51 619.28,169.53 619.65,168.56 620.03,167.59 620.41,166.63 620.79,165.68 621.16,164.73 621.54,163.79 621.92,162.86 622.30,161.93 622.67,161.02 623.05,160.13 623.43,159.24 623.81,158.37 624.18,157.51 624.56,156.67 624.94,155.85 625.32,155.04 625.69,154.25 626.07,153.48 626.45,152.73 626.83,152.00 627.20,151.29 627.58,150.60 627.96,149.93 628.34,149.28 628.71,148.66 629.09,148.06 629.47,147.49 629.85,146.93 630.22,146.41 630.60,145.91 630.98,145.43 631.36,144.98 631.73,144.55 632.11,144.15 632.49,143.77 632.87,143.42 633.24,143.09 633.62,142.79 634.00,142.51 634.38,142.26 634.75,142.03 635.13,141.82 635.51,141.63 635.89,141.47 636.26,141.32 636.64,141.20 637.02,141.09 637.39,141.00 637.77,140.93 638.15,140.87 638.53,140.83 638.90,140.80 639.28,140.77 639.66,140.76 640.04,140.75 640.41,140.75 640.79,140.75" fill="none" stroke="#ff0000" stroke-width="2.4" stroke-linejoin="round" stroke-linecap="round"/>
<polyline clip-path="url(#csp2)" points="414.70,140.75 415.08,140.75 415.47,140.74 415.85,140.73 416.24,140.70 416.62,140.66 417.01,140.60 417.39,140.51 417.78,140.40 418.16,140.26 418.54,140.09 418.93,139.89 419.31,139.65 419.70,139.38 420.08,139.07 420.47,138.72 420.85,138.33 421.23,137.91 421.62,137.44 422.00,136.93 422.39,136.38 422.77,135.79 423.16,135.15 423.54,134.48 423.93,133.76 424.31,133.01 424.69,132.21 425.08,131.38 425.46,130.51 425.85,129.61 426.23,128.66 426.62,127.69 427.00,126.68 427.39,125.64 427.77,124.56 428.15,123.46 428.54,122.34 428.92,121.18 429.31,120.01 429.69,118.81 430.08,117.59 430.46,116.35 430.85,115.10 431.23,113.83 431.61,112.55 432.00,111.26 432.38,109.96 432.77,108.66 433.15,107.35 433.54,106.03 433.92,104.72 434.30,103.41 434.69,102.10 435.07,100.79 435.46,99.49 435.84,98.21 436.23,96.93 436.61,95.67 437.00,94.42 437.38,93.18 437.76,91.97 438.15,90.77 438.53,89.60 438.92,88.45 439.30,87.33 439.69,86.23 440.07,85.16 440.46,84.12 440.84,83.11 441.22,82.14 441.61,81.19 441.99,80.29 442.38,79.41 442.76,78.58 443.15,77.78 443.53,77.03 443.91,76.31 444.30,75.64 444.68,75.00 445.07,74.41 445.45,73.86 445.84,73.36 446.22,72.90 446.61,72.48 446.99,72.12 447.37,71.79 447.76,71.51 448.14,71.28 448.53,71.10 448.91,70.96 449.30,70.86 449.68,70.82 450.07,70.81 450.45,70.86 450.83,70.95 451.22,71.08 451.60,71.26 451.99,71.49 452.37,71.76 452.76,72.07 453.14,72.42 453.53,72.82 453.91,73.26 454.29,73.74 454.68,74.26 455.06,74.82 455.45,75.41 455.83,76.05 456.22,76.72 456.60,77.42 456.98,78.16 457.37,78.93 457.75,79.74 458.14,80.58 458.52,81.45 458.91,82.34 459.29,83.27 459.68,84.22 460.06,85.19 460.44,86.20 460.83,87.22 461.21,88.27 461.60,89.34 461.98,90.42 462.37,91.53 462.75,92.65 463.14,93.79 463.52,94.94 463.90,96.11 464.29,97.29 464.67,98.47 465.06,99.67 465.44,100.88 465.83,102.09 466.21,103.31 466.59,104.54 466.98,105.77 467.36,107.00 467.75,108.23 468.13,109.46 468.52,110.69 468.90,111.92 469.29,113.14 469.67,114.36 470.05,115.57 470.44,116.78 470.82,117.98 471.21,119.17 471.59,120.35 471.98,121.51 472.36,122.67 472.75,123.81 473.13,124.94 473.51,126.06 473.90,127.16 474.28,128.24 474.67,129.31 475.05,130.35 475.44,131.38 475.82,132.39 476.21,133.38 476.59,134.34 476.97,135.29 477.36,136.21 477.74,137.11 478.13,137.99 478.51,138.84 478.90,139.67 479.28,140.47 479.66,141.25 480.05,142.00 480.43,142.72 480.82,143.42 481.20,144.09 481.59,144.73 481.97,145.35 482.36,145.94 482.74,146.50 483.12,147.03 483.51,147.53 483.89,148.01 484.28,148.45 484.66,148.87 485.05,149.26 485.43,149.62 485.82,149.95 486.20,150.25 486.58,150.53 486.97,150.77 487.35,150.99 487.74,151.18 488.12,151.34 488.51,151.48 488.89,151.58 489.27,151.66 489.66,151.72 490.04,151.74 490.43,151.74 490.81,151.72 491.20,151.67 491.58,151.59 491.97,151.49 492.35,151.37 492.73,151.22 493.12,151.05 493.50,150.85 493.89,150.64 494.27,150.40 494.66,150.14 495.04,149.86 495.43,149.57 495.81,149.25 496.19,148.91 496.58,148.56 496.96,148.18 497.35,147.80 497.73,147.39 498.12,146.97 498.50,146.53 498.88,146.08 499.27,145.62 499.65,145.14 500.04,144.65 500.42,144.15 500.81,143.64 501.19,143.12 501.58,142.59 501.96,142.05 502.34,141.50 502.73,140.95 503.11,140.38 503.50,139.81 503.88,139.24 504.27,138.66 504.65,138.07 505.04,137.49 505.42,136.90 505.80,136.31 506.19,135.71 506.57,135.12 506.96,134.52 507.34,133.93 507.73,133.33 508.11,132.74 508.50,132.15 508.88,131.56 509.26,130.98 509.65,130.40 510.03,129.83 510.42,129.26 510.80,128.69 511.19,128.14 511.57,127.59 511.95,127.04 512.34,126.51 512.72,125.98 513.11,125.47 513.49,124.96 513.88,124.46 514.26,123.97 514.65,123.50 515.03,123.03 515.41,122.58 515.80,122.14 516.18,121.71 516.57,121.29 516.95,120.89 517.34,120.50 517.72,120.13 518.11,119.77 518.49,119.42 518.87,119.09 519.26,118.78 519.64,118.48 520.03,118.19 520.41,117.93 520.80,117.68 521.18,117.44 521.56,117.22 521.95,117.02 522.33,116.84 522.72,116.68 523.10,116.53 523.49,116.40 523.87,116.28 524.26,116.19 524.64,116.11 525.02,116.05 525.41,116.01 525.79,115.99 526.18,115.99 526.56,116.00 526.95,116.03 527.33,116.08 527.72,116.15 528.10,116.24 528.48,116.34 528.87,116.47 529.25,116.61 529.64,116.76 530.02,116.94 530.41,117.14 530.79,117.35 531.18,117.58 531.56,117.82 531.94,118.09 532.33,118.37 532.71,118.66 533.10,118.98 533.48,119.30 533.87,119.65 534.25,120.01 534.63,120.39 535.02,120.78 535.40,121.19 535.79,121.61 536.17,122.05 536.56,122.50 536.94,122.96 537.33,123.44 537.71,123.93 538.09,124.44 538.48,124.96 538.86,125.49 539.25,126.03 539.63,126.58 540.02,127.15 540.40,127.72 540.79,128.31 541.17,128.90 541.55,129.51 541.94,130.12 542.32,130.75 542.71,131.38 543.09,132.02 543.48,132.67 543.86,133.32 544.24,133.98 544.63,134.65 545.01,135.33 545.40,136.00 545.78,136.69 546.17,137.38 546.55,138.07 546.94,138.77 547.32,139.47 547.70,140.17 548.09,140.88 548.47,141.58 548.86,142.29 549.24,143.00 549.63,143.71 550.01,144.42 550.40,145.13 550.78,145.84 551.16,146.55 551.55,147.25 551.93,147.95 552.32,148.65 552.70,149.35 553.09,150.04 553.47,150.73 553.86,151.41 554.24,152.09 554.62,152.76 555.01,153.43 555.39,154.09 555.78,154.74 556.16,155.39 556.55,156.03 556.93,156.66 557.31,157.28 557.70,157.89 558.08,158.49 558.47,159.08 558.85,159.66 559.24,160.23 559.62,160.79 560.01,161.34 560.39,161.88 560.77,162.40 561.16,162.91 561.54,163.41 561.93,163.89 562.31,164.36 562.70,164.81 563.08,165.25 563.47,165.68 563.85,166.09 564.23,166.49 564.62,166.87 565.00,167.23 565.39,167.57 565.77,167.90 566.16,168.22 566.54,168.51 566.92,168.79 567.31,169.05 567.69,169.30 568.08,169.52 568.46,169.73 568.85,169.91 569.23,170.08 569.62,170.23 570.00,170.37 570.38,170.48 570.77,170.57 571.15,170.65 571.54,170.70 571.92,170.74 572.31,170.76 572.69,170.75 573.08,170.73 573.46,170.69 573.84,170.63 574.23,170.55 574.61,170.45 575.00,170.33 575.38,170.19 575.77,170.03 576.15,169.86 576.54,169.66 576.92,169.45 577.30,169.22 577.69,168.97 578.07,168.70 578.46,168.41 578.84,168.11 579.23,167.79 579.61,167.45 579.99,167.09 580.38,166.72 580.76,166.33 581.15,165.93 581.53,165.51 581.92,165.07 582.30,164.62 582.69,164.16 583.07,163.68 583.45,163.19 583.84,162.68 584.22,162.16 584.61,161.63 584.99,161.09 585.38,160.54 585.76,159.97 586.15,159.40 586.53,158.82 586.91,158.22 587.30,157.62 587.68,157.01 588.07,156.40 588.45,155.77 588.84,155.14 589.22,154.51 589.60,153.87 589.99,153.23 590.37,152.58 590.76,151.93 591.14,151.27 591.53,150.62 591.91,149.97 592.30,149.31 592.68,148.66 593.06,148.00 593.45,147.35 593.83,146.70 594.22,146.06 594.60,145.42 594.99,144.78 595.37,144.15 595.76,143.53 596.14,142.92 596.52,142.31 596.91,141.71 597.29,141.12 597.68,140.54 598.06,139.97 598.45,139.42 598.83,138.87 599.22,138.34 599.60,137.83 599.98,137.33 600.37,136.84 600.75,136.37 601.14,135.92 601.52,135.49 601.91,135.07 602.29,134.67 602.67,134.30 603.06,133.94 603.44,133.60 603.83,133.29 604.21,133.00 604.60,132.73 604.98,132.49 605.37,132.27 605.75,132.07 606.13,131.90 606.52,131.76 606.90,131.65 607.29,131.56 607.67,131.49 608.06,131.46 608.44,131.46 608.83,131.48 609.21,131.53 609.59,131.62 609.98,131.73 610.36,131.87 610.75,132.05 611.13,132.25 611.52,132.49 611.90,132.75 612.28,133.05 612.67,133.38 613.05,133.74 613.44,134.14 613.82,134.56 614.21,135.02 614.59,135.51 614.98,136.03 615.36,136.58 615.74,137.16 616.13,137.78 616.51,138.42 616.90,139.10 617.28,139.81 617.67,140.54 618.05,141.31 618.44,142.11 618.82,142.93 619.20,143.79 619.59,144.67 619.97,145.58 620.36,146.52 620.74,147.48 621.13,148.47 621.51,149.49 621.89,150.53 622.28,151.59 622.66,152.68 623.05,153.79 623.43,154.92 623.82,156.07 624.20,157.24 624.59,158.43 624.97,159.64 625.35,160.87 625.74,162.11 626.12,163.36 626.51,164.63 626.89,165.92 627.28,167.21 627.66,168.52 628.05,169.83 628.43,171.15 628.81,172.48 629.20,173.82 629.58,175.16 629.97,176.50 630.35,177.85 630.74,179.20 631.12,180.54 631.51,181.89 631.89,183.23 632.27,184.56 632.66,185.89 633.04,187.22 633.43,188.53 633.81,189.84 634.20,191.13 634.58,192.41 634.96,193.68 635.35,194.93 635.73,196.16 636.12,197.37 636.50,198.57 636.89,199.74 637.27,200.89 637.66,202.02 638.04,203.12 638.42,204.20 638.81,205.25 639.19,206.26 639.58,207.25 639.96,208.21 640.35,209.13 640.73,210.02 641.12,210.87 641.50,211.68 641.88,212.46 642.27,213.20 642.65,213.90 643.04,214.55 643.42,215.17 643.81,215.74 644.19,216.27 644.57,216.75 644.96,217.18 645.34,217.57 645.73,217.92 646.11,218.21 646.50,218.46 646.88,218.65 647.27,218.80 647.65,218.89 648.03,218.94 648.42,218.93 648.80,218.88 649.19,218.77 649.57,218.61 649.96,218.40 650.34,218.14 650.73,217.83 651.11,217.46 651.49,217.05 651.88,216.58 652.26,216.07 652.65,215.51 653.03,214.89 653.42,214.23 653.80,213.52 654.19,212.77 654.57,211.97 654.95,211.12 655.34,210.23 655.72,209.30 656.11,208.32 656.49,207.31 656.88,206.26 657.26,205.17 657.64,204.04 658.03,202.88 658.41,201.68 658.80,200.46 659.18,199.20 659.57,197.92 659.95,196.61 660.34,195.27 660.72,193.92 661.10,192.54 661.49,191.14 661.87,189.73 662.26,188.30 662.64,186.86 663.03,185.42 663.41,183.96 663.80,182.50 664.18,181.03 664.56,179.56 664.95,178.09 665.33,176.63 665.72,175.17 666.10,173.72 666.49,172.27 666.87,170.84 667.25,169.43 667.64,168.03 668.02,166.64 668.41,165.28 668.79,163.94 669.18,162.63 669.56,161.34 669.95,160.08 670.33,158.85 670.71,157.65 671.10,156.49 671.48,155.36 671.87,154.27 672.25,153.21 672.64,152.20 673.02,151.23 673.41,150.30 673.79,149.41 674.17,148.56 674.56,147.76 674.94,147.01 675.33,146.30 675.71,145.64 676.10,145.03 676.48,144.46 676.87,143.93 677.25,143.45 677.63,143.02 678.02,142.63 678.40,142.28 678.79,141.98 679.17,141.71 679.56,141.49 679.94,141.30 680.32,141.14 680.71,141.02 681.09,140.92 681.48,140.85 681.86,140.80 682.25,140.77 682.63,140.76 683.02,140.75 683.40,140.75" fill="none" stroke="#0000ff" stroke-width="2.4" stroke-linejoin="round" stroke-linecap="round"/>
<g transform="translate(0,265.80) scale(1,1.06)"><text x="409.89" y="0">0</text></g>
<g transform="translate(0,265.80) scale(1,1.06)"><text x="473.87" y="0">5</text></g>
<g transform="translate(0,265.80) scale(1,1.06)"><text x="533.03" y="0"><tspan style="fill:none">1</tspan>0</text><path transform="translate(533.03,0) scale(0.00845,-0.00845)" d="M763,0L583,0L583,1120Q518,1062 412,1004Q306,946 190,912L190,1085Q373,1160 486,1250Q590,1340 636,1420L763,1420Z"/></g>
<g transform="translate(0,265.80) scale(1,1.06)"><text x="597.01" y="0"><tspan style="fill:none">1</tspan>5</text><path transform="translate(597.01,0) scale(0.00845,-0.00845)" d="M763,0L583,0L583,1120Q518,1062 412,1004Q306,946 190,912L190,1085Q373,1160 486,1250Q590,1340 636,1420L763,1420Z"/></g>
<g transform="translate(0,265.80) scale(1,1.06)"><text x="660.98" y="0">20</text></g>
<g transform="translate(0,249.40) scale(1,1.06)"><text x="378.89" y="0">-0.4</text></g>
<g transform="translate(0,198.63) scale(1,1.06)"><text x="378.89" y="0">-0.2</text></g>
<g transform="translate(0,147.85) scale(1,1.06)"><text x="399.08" y="0">0</text></g>
<g transform="translate(0,97.08) scale(1,1.06)"><text x="384.65" y="0">0.2</text></g>
<g transform="translate(0,46.30) scale(1,1.06)"><text x="384.65" y="0">0.4</text></g>
<text x="549.05" y="291.90" text-anchor="middle" style="font-size:19.3px">Time (s)</text>
<text transform="translate(371.10,140.75) rotate(-90)" text-anchor="middle" style="font-size:19.3px">Velocity (°/s)</text>
<line x1="126.24" y1="325.4" x2="126.24" y2="526.5" stroke="#e3e3e3" stroke-width="1"/>
<line x1="189.98" y1="325.4" x2="189.98" y2="526.5" stroke="#e3e3e3" stroke-width="1"/>
<line x1="253.71" y1="325.4" x2="253.71" y2="526.5" stroke="#e3e3e3" stroke-width="1"/>
<line x1="317.45" y1="325.4" x2="317.45" y2="526.5" stroke="#e3e3e3" stroke-width="1"/>
<line x1="62.5" y1="476.23" x2="330.2" y2="476.23" stroke="#e3e3e3" stroke-width="1"/>
<line x1="62.5" y1="425.95" x2="330.2" y2="425.95" stroke="#e3e3e3" stroke-width="1"/>
<line x1="62.5" y1="375.67" x2="330.2" y2="375.67" stroke="#e3e3e3" stroke-width="1"/>
<rect x="62.5" y="325.4" width="267.70" height="201.10" fill="none" stroke="#4d4d4d" stroke-width="1.45"/>
<path d="M62.50,526.5v-2.7M62.50,325.4v2.7M126.24,526.5v-2.7M126.24,325.4v2.7M189.98,526.5v-2.7M189.98,325.4v2.7M253.71,526.5v-2.7M253.71,325.4v2.7M317.45,526.5v-2.7M317.45,325.4v2.7M62.5,526.50h2.7M330.2,526.50h-2.7M62.5,476.23h2.7M330.2,476.23h-2.7M62.5,425.95h2.7M330.2,425.95h-2.7M62.5,375.67h2.7M330.2,375.67h-2.7M62.5,325.40h2.7M330.2,325.40h-2.7" stroke="#4d4d4d" stroke-width="1.45"/>
<clipPath id="csp3"><rect x="60.5" y="323.4" width="271.7" height="205.10000000000002"/></clipPath>
<polyline clip-path="url(#csp3)" points="62.50,425.95 62.88,425.89 63.25,425.71 63.63,425.41 64.00,425.02 64.38,424.52 64.76,423.93 65.13,423.26 65.51,422.50 65.88,421.68 66.26,420.79 66.64,419.83 67.01,418.82 67.39,417.76 67.76,416.65 68.14,415.50 68.52,414.32 68.89,413.10 69.27,411.86 69.64,410.60 70.02,409.32 70.40,408.03 70.77,406.73 71.15,405.42 71.53,404.11 71.90,402.80 72.28,401.49 72.65,400.20 73.03,398.91 73.41,397.64 73.78,396.39 74.16,395.16 74.53,393.95 74.91,392.76 75.29,391.60 75.66,390.48 76.04,389.38 76.41,388.32 76.79,387.29 77.17,386.30 77.54,385.35 77.92,384.44 78.29,383.58 78.67,382.75 79.05,381.98 79.42,381.24 79.80,380.56 80.17,379.92 80.55,379.33 80.93,378.79 81.30,378.30 81.68,377.86 82.05,377.47 82.43,377.13 82.81,376.84 83.18,376.61 83.56,376.43 83.93,376.30 84.31,376.22 84.69,376.19 85.06,376.22 85.44,376.29 85.81,376.42 86.19,376.60 86.57,376.82 86.94,377.10 87.32,377.43 87.69,377.80 88.07,378.23 88.45,378.70 88.82,379.21 89.20,379.77 89.58,380.38 89.95,381.02 90.33,381.71 90.70,382.44 91.08,383.22 91.46,384.03 91.83,384.87 92.21,385.76 92.58,386.68 92.96,387.63 93.34,388.61 93.71,389.63 94.09,390.68 94.46,391.75 94.84,392.85 95.22,393.98 95.59,395.13 95.97,396.30 96.34,397.49 96.72,398.70 97.10,399.93 97.47,401.17 97.85,402.43 98.22,403.71 98.60,404.99 98.98,406.28 99.35,407.58 99.73,408.89 100.10,410.20 100.48,411.52 100.86,412.83 101.23,414.15 101.61,415.47 101.98,416.78 102.36,418.09 102.74,419.39 103.11,420.68 103.49,421.96 103.86,423.23 104.24,424.50 104.62,425.74 104.99,426.97 105.37,428.19 105.75,429.39 106.12,430.56 106.50,431.72 106.87,432.86 107.25,433.97 107.63,435.06 108.00,436.12 108.38,437.16 108.75,438.17 109.13,439.15 109.51,440.10 109.88,441.02 110.26,441.91 110.63,442.77 111.01,443.60 111.39,444.39 111.76,445.15 112.14,445.88 112.51,446.57 112.89,447.22 113.27,447.84 113.64,448.42 114.02,448.97 114.39,449.48 114.77,449.96 115.15,450.39 115.52,450.80 115.90,451.16 116.27,451.49 116.65,451.79 117.03,452.05 117.40,452.27 117.78,452.46 118.15,452.62 118.53,452.74 118.91,452.83 119.28,452.88 119.66,452.91 120.03,452.90 120.41,452.87 120.79,452.80 121.16,452.71 121.54,452.59 121.91,452.44 122.29,452.26 122.67,452.07 123.04,451.84 123.42,451.60 123.80,451.33 124.17,451.04 124.55,450.74 124.92,450.41 125.30,450.07 125.68,449.71 126.05,449.33 126.43,448.94 126.80,448.54 127.18,448.13 127.56,447.71 127.93,447.28 128.31,446.84 128.68,446.39 129.06,445.94 129.44,445.48 129.81,445.02 130.19,444.56 130.56,444.10 130.94,443.64 131.32,443.18 131.69,442.72 132.07,442.27 132.44,441.82 132.82,441.38 133.20,440.95 133.57,440.52 133.95,440.10 134.32,439.70 134.70,439.30 135.08,438.92 135.45,438.55 135.83,438.19 136.20,437.85 136.58,437.53 136.96,437.22 137.33,436.92 137.71,436.65 138.08,436.39 138.46,436.16 138.84,435.94 139.21,435.74 139.59,435.56 139.97,435.41 140.34,435.27 140.72,435.16 141.09,435.06 141.47,434.99 141.85,434.94 142.22,434.91 142.60,434.91 142.97,434.92 143.35,434.96 143.73,435.02 144.10,435.09 144.48,435.19 144.85,435.31 145.23,435.45 145.61,435.61 145.98,435.79 146.36,435.98 146.73,436.19 147.11,436.42 147.49,436.67 147.86,436.93 148.24,437.21 148.61,437.50 148.99,437.80 149.37,438.11 149.74,438.44 150.12,438.78 150.49,439.13 150.87,439.49 151.25,439.85 151.62,440.22 152.00,440.60 152.37,440.99 152.75,441.38 153.13,441.77 153.50,442.16 153.88,442.56 154.25,442.95 154.63,443.35 155.01,443.74 155.38,444.13 155.76,444.52 156.13,444.90 156.51,445.28 156.89,445.65 157.26,446.01 157.64,446.37 158.02,446.71 158.39,447.05 158.77,447.38 159.14,447.69 159.52,447.99 159.90,448.28 160.27,448.55 160.65,448.81 161.02,449.06 161.40,449.29 161.78,449.50 162.15,449.69 162.53,449.87 162.90,450.03 163.28,450.17 163.66,450.29 164.03,450.39 164.41,450.48 164.78,450.54 165.16,450.58 165.54,450.60 165.91,450.61 166.29,450.59 166.66,450.55 167.04,450.49 167.42,450.41 167.79,450.31 168.17,450.19 168.54,450.06 168.92,449.90 169.30,449.72 169.67,449.53 170.05,449.32 170.42,449.08 170.80,448.84 171.18,448.57 171.55,448.29 171.93,447.99 172.30,447.68 172.68,447.36 173.06,447.02 173.43,446.66 173.81,446.30 174.19,445.92 174.56,445.53 174.94,445.13 175.31,444.72 175.69,444.31 176.07,443.88 176.44,443.45 176.82,443.01 177.19,442.57 177.57,442.12 177.95,441.67 178.32,441.21 178.70,440.76 179.07,440.30 179.45,439.84 179.83,439.39 180.20,438.93 180.58,438.48 180.95,438.03 181.33,437.58 181.71,437.14 182.08,436.71 182.46,436.28 182.83,435.86 183.21,435.45 183.59,435.05 183.96,434.66 184.34,434.28 184.71,433.91 185.09,433.55 185.47,433.21 185.84,432.88 186.22,432.57 186.59,432.27 186.97,431.99 187.35,431.73 187.72,431.48 188.10,431.25 188.47,431.04 188.85,430.85 189.23,430.68 189.60,430.53 189.98,430.40 190.36,430.29 190.73,430.20 191.11,430.14 191.48,430.09 191.86,430.07 192.24,430.07 192.61,430.10 192.99,430.14 193.36,430.21 193.74,430.31 194.12,430.42 194.49,430.56 194.87,430.72 195.24,430.91 195.62,431.11 196.00,431.34 196.37,431.60 196.75,431.87 197.12,432.17 197.50,432.49 197.88,432.83 198.25,433.19 198.63,433.57 199.00,433.98 199.38,434.40 199.76,434.84 200.13,435.30 200.51,435.78 200.88,436.28 201.26,436.80 201.64,437.33 202.01,437.88 202.39,438.45 202.76,439.03 203.14,439.63 203.52,440.24 203.89,440.87 204.27,441.50 204.64,442.15 205.02,442.81 205.40,443.49 205.77,444.17 206.15,444.86 206.52,445.56 206.90,446.26 207.28,446.98 207.65,447.70 208.03,448.42 208.41,449.15 208.78,449.88 209.16,450.62 209.53,451.36 209.91,452.10 210.29,452.83 210.66,453.57 211.04,454.31 211.41,455.04 211.79,455.77 212.17,456.50 212.54,457.22 212.92,457.93 213.29,458.64 213.67,459.34 214.05,460.03 214.42,460.71 214.80,461.38 215.17,462.04 215.55,462.69 215.93,463.32 216.30,463.94 216.68,464.54 217.05,465.13 217.43,465.70 217.81,466.26 218.18,466.79 218.56,467.31 218.93,467.80 219.31,468.28 219.69,468.73 220.06,469.16 220.44,469.57 220.81,469.95 221.19,470.30 221.57,470.64 221.94,470.94 222.32,471.22 222.69,471.47 223.07,471.69 223.45,471.88 223.82,472.04 224.20,472.17 224.58,472.27 224.95,472.34 225.33,472.37 225.70,472.37 226.08,472.34 226.46,472.28 226.83,472.18 227.21,472.04 227.58,471.87 227.96,471.66 228.34,471.42 228.71,471.14 229.09,470.82 229.46,470.47 229.84,470.07 230.22,469.64 230.59,469.17 230.97,468.67 231.34,468.12 231.72,467.54 232.10,466.92 232.47,466.26 232.85,465.56 233.22,464.82 233.60,464.04 233.98,463.23 234.35,462.37 234.73,461.48 235.10,460.55 235.48,459.59 235.86,458.58 236.23,457.54 236.61,456.46 236.98,455.35 237.36,454.20 237.74,453.02 238.11,451.80 238.49,450.55 238.86,449.26 239.24,447.95 239.62,446.60 239.99,445.22 240.37,443.81 240.74,442.37 241.12,440.91 241.50,439.41 241.87,437.90 242.25,436.35 242.63,434.79 243.00,433.20 243.38,431.59 243.75,429.97 244.13,428.32 244.51,426.66 244.88,424.98 245.26,423.30 245.63,421.59 246.01,419.88 246.39,418.16 246.76,416.44 247.14,414.71 247.51,412.97 247.89,411.24 248.27,409.50 248.64,407.77 249.02,406.04 249.39,404.32 249.77,402.60 250.15,400.89 250.52,399.20 250.90,397.51 251.27,395.85 251.65,394.20 252.03,392.56 252.40,390.95 252.78,389.36 253.15,387.80 253.53,386.26 253.91,384.75 254.28,383.27 254.66,381.82 255.03,380.40 255.41,379.02 255.79,377.67 256.16,376.36 256.54,375.10 256.91,373.87 257.29,372.69 257.67,371.55 258.04,370.46 258.42,369.42 258.80,368.42 259.17,367.48 259.55,366.58 259.92,365.74 260.30,364.96 260.68,364.23 261.05,363.56 261.43,362.94 261.80,362.38 262.18,361.89 262.56,361.45 262.93,361.08 263.31,360.76 263.68,360.51 264.06,360.33 264.44,360.20 264.81,360.15 265.19,360.15 265.56,360.22 265.94,360.36 266.32,360.56 266.69,360.83 267.07,361.16 267.44,361.55 267.82,362.01 268.20,362.54 268.57,363.13 268.95,363.78 269.32,364.49 269.70,365.27 270.08,366.10 270.45,367.00 270.83,367.95 271.20,368.97 271.58,370.03 271.96,371.16 272.33,372.33 272.71,373.56 273.08,374.83 273.46,376.15 273.84,377.52 274.21,378.93 274.59,380.38 274.96,381.86 275.34,383.38 275.72,384.94 276.09,386.52 276.47,388.13 276.85,389.76 277.22,391.41 277.60,393.07 277.97,394.75 278.35,396.43 278.73,398.12 279.10,399.81 279.48,401.49 279.85,403.17 280.23,404.82 280.61,406.46 280.98,408.08 281.36,409.66 281.73,411.21 282.11,412.72 282.49,414.18 282.86,415.58 283.24,416.93 283.61,418.22 283.99,419.43 284.37,420.56 284.74,421.60 285.12,422.55 285.49,423.41 285.87,424.15 286.25,424.77 286.62,425.28 287.00,425.64 287.37,425.87 287.75,425.95" fill="none" stroke="#ff0000" stroke-width="2.4" stroke-linejoin="round" stroke-linecap="round"/>
<polyline clip-path="url(#csp3)" points="62.50,425.95 62.88,425.80 63.27,425.35 63.65,424.64 64.03,423.68 64.41,422.49 64.80,421.08 65.18,419.48 65.56,417.71 65.95,415.77 66.33,413.70 66.71,411.49 67.10,409.18 67.48,406.77 67.86,404.27 68.24,401.71 68.63,399.09 69.01,396.43 69.39,393.73 69.78,391.02 70.16,388.30 70.54,385.58 70.93,382.87 71.31,380.18 71.69,377.52 72.07,374.91 72.46,372.34 72.84,369.83 73.22,367.38 73.61,365.00 73.99,362.69 74.37,360.47 74.76,358.34 75.14,356.30 75.52,354.36 75.90,352.52 76.29,350.79 76.67,349.17 77.05,347.67 77.44,346.28 77.82,345.01 78.20,343.87 78.58,342.85 78.97,341.96 79.35,341.19 79.73,340.56 80.12,340.05 80.50,339.68 80.88,339.44 81.27,339.33 81.65,339.35 82.03,339.50 82.41,339.78 82.80,340.19 83.18,340.73 83.56,341.39 83.95,342.18 84.33,343.09 84.71,344.12 85.10,345.27 85.48,346.54 85.86,347.92 86.24,349.41 86.63,351.01 87.01,352.71 87.39,354.52 87.78,356.42 88.16,358.42 88.54,360.51 88.93,362.69 89.31,364.95 89.69,367.30 90.07,369.71 90.46,372.20 90.84,374.76 91.22,377.38 91.61,380.06 91.99,382.79 92.37,385.58 92.76,388.41 93.14,391.28 93.52,394.19 93.90,397.14 94.29,400.11 94.67,403.10 95.05,406.11 95.44,409.14 95.82,412.18 96.20,415.23 96.58,418.27 96.97,421.32 97.35,424.35 97.73,427.38 98.12,430.39 98.50,433.38 98.88,436.35 99.27,439.30 99.65,442.21 100.03,445.09 100.41,447.93 100.80,450.73 101.18,453.48 101.56,456.19 101.95,458.85 102.33,461.46 102.71,464.01 103.10,466.50 103.48,468.93 103.86,471.30 104.24,473.61 104.63,475.85 105.01,478.02 105.39,480.12 105.78,482.15 106.16,484.10 106.54,485.98 106.93,487.79 107.31,489.52 107.69,491.17 108.07,492.74 108.46,494.23 108.84,495.64 109.22,496.97 109.61,498.22 109.99,499.39 110.37,500.47 110.75,501.47 111.14,502.39 111.52,503.23 111.90,503.98 112.29,504.66 112.67,505.25 113.05,505.75 113.44,506.18 113.82,506.53 114.20,506.79 114.58,506.98 114.97,507.09 115.35,507.12 115.73,507.07 116.12,506.95 116.50,506.75 116.88,506.47 117.27,506.13 117.65,505.71 118.03,505.22 118.41,504.66 118.80,504.03 119.18,503.34 119.56,502.58 119.95,501.76 120.33,500.87 120.71,499.93 121.10,498.93 121.48,497.86 121.86,496.75 122.24,495.58 122.63,494.35 123.01,493.08 123.39,491.76 123.78,490.39 124.16,488.98 124.54,487.52 124.93,486.03 125.31,484.49 125.69,482.92 126.07,481.31 126.46,479.67 126.84,478.00 127.22,476.30 127.61,474.58 127.99,472.83 128.37,471.05 128.75,469.26 129.14,467.44 129.52,465.61 129.90,463.77 130.29,461.91 130.67,460.05 131.05,458.17 131.44,456.29 131.82,454.40 132.20,452.51 132.58,450.62 132.97,448.73 133.35,446.85 133.73,444.97 134.12,443.09 134.50,441.23 134.88,439.37 135.27,437.53 135.65,435.70 136.03,433.89 136.41,432.10 136.80,430.32 137.18,428.56 137.56,426.83 137.95,425.12 138.33,423.44 138.71,421.78 139.10,420.15 139.48,418.55 139.86,416.98 140.24,415.44 140.63,413.93 141.01,412.46 141.39,411.02 141.78,409.62 142.16,408.25 142.54,406.92 142.92,405.63 143.31,404.38 143.69,403.16 144.07,401.99 144.46,400.86 144.84,399.77 145.22,398.72 145.61,397.72 145.99,396.75 146.37,395.83 146.75,394.96 147.14,394.12 147.52,393.33 147.90,392.59 148.29,391.89 148.67,391.24 149.05,390.62 149.44,390.06 149.82,389.54 150.20,389.06 150.58,388.63 150.97,388.24 151.35,387.90 151.73,387.60 152.12,387.35 152.50,387.14 152.88,386.97 153.27,386.85 153.65,386.77 154.03,386.73 154.41,386.73 154.80,386.78 155.18,386.87 155.56,387.00 155.95,387.17 156.33,387.38 156.71,387.63 157.09,387.91 157.48,388.24 157.86,388.61 158.24,389.01 158.63,389.44 159.01,389.92 159.39,390.43 159.78,390.97 160.16,391.55 160.54,392.16 160.92,392.80 161.31,393.47 161.69,394.17 162.07,394.91 162.46,395.67 162.84,396.46 163.22,397.28 163.61,398.12 163.99,398.99 164.37,399.88 164.75,400.80 165.14,401.74 165.52,402.70 165.90,403.69 166.29,404.69 166.67,405.71 167.05,406.75 167.44,407.81 167.82,408.88 168.20,409.97 168.58,411.07 168.97,412.19 169.35,413.32 169.73,414.46 170.12,415.61 170.50,416.77 170.88,417.93 171.27,419.11 171.65,420.29 172.03,421.48 172.41,422.67 172.80,423.87 173.18,425.07 173.56,426.27 173.95,427.47 174.33,428.67 174.71,429.87 175.09,431.07 175.48,432.26 175.86,433.45 176.24,434.64 176.63,435.82 177.01,436.99 177.39,438.16 177.78,439.32 178.16,440.47 178.54,441.61 178.92,442.74 179.31,443.86 179.69,444.97 180.07,446.06 180.46,447.14 180.84,448.21 181.22,449.26 181.61,450.29 181.99,451.31 182.37,452.31 182.75,453.30 183.14,454.26 183.52,455.21 183.90,456.14 184.29,457.05 184.67,457.93 185.05,458.80 185.44,459.64 185.82,460.46 186.20,461.26 186.58,462.04 186.97,462.79 187.35,463.52 187.73,464.22 188.12,464.90 188.50,465.55 188.88,466.17 189.26,466.77 189.65,467.34 190.03,467.89 190.41,468.41 190.80,468.90 191.18,469.36 191.56,469.79 191.95,470.19 192.33,470.57 192.71,470.92 193.09,471.23 193.48,471.52 193.86,471.78 194.24,472.00 194.63,472.20 195.01,472.37 195.39,472.50 195.78,472.61 196.16,472.68 196.54,472.73 196.92,472.74 197.31,472.72 197.69,472.67 198.07,472.59 198.46,472.48 198.84,472.34 199.22,472.16 199.61,471.96 199.99,471.73 200.37,471.46 200.75,471.16 201.14,470.84 201.52,470.48 201.90,470.09 202.29,469.68 202.67,469.23 203.05,468.75 203.44,468.25 203.82,467.71 204.20,467.15 204.58,466.56 204.97,465.94 205.35,465.29 205.73,464.62 206.12,463.91 206.50,463.18 206.88,462.43 207.26,461.64 207.65,460.84 208.03,460.00 208.41,459.15 208.80,458.27 209.18,457.36 209.56,456.43 209.95,455.48 210.33,454.51 210.71,453.52 211.09,452.50 211.48,451.47 211.86,450.41 212.24,449.34 212.63,448.25 213.01,447.14 213.39,446.01 213.78,444.87 214.16,443.72 214.54,442.54 214.92,441.36 215.31,440.16 215.69,438.95 216.07,437.73 216.46,436.50 216.84,435.26 217.22,434.01 217.61,432.76 217.99,431.50 218.37,430.23 218.75,428.96 219.14,427.68 219.52,426.40 219.90,425.12 220.29,423.84 220.67,422.57 221.05,421.29 221.43,420.01 221.82,418.74 222.20,417.48 222.58,416.22 222.97,414.96 223.35,413.72 223.73,412.48 224.12,411.26 224.50,410.04 224.88,408.84 225.26,407.66 225.65,406.48 226.03,405.33 226.41,404.19 226.80,403.06 227.18,401.96 227.56,400.88 227.95,399.82 228.33,398.78 228.71,397.77 229.09,396.77 229.48,395.81 229.86,394.87 230.24,393.96 230.63,393.08 231.01,392.23 231.39,391.40 231.78,390.61 232.16,389.86 232.54,389.13 232.92,388.44 233.31,387.79 233.69,387.17 234.07,386.59 234.46,386.05 234.84,385.54 235.22,385.08 235.61,384.66 235.99,384.27 236.37,383.93 236.75,383.63 237.14,383.38 237.52,383.17 237.90,383.00 238.29,382.88 238.67,382.80 239.05,382.77 239.43,382.79 239.82,382.86 240.20,382.97 240.58,383.13 240.97,383.34 241.35,383.59 241.73,383.90 242.12,384.26 242.50,384.66 242.88,385.12 243.26,385.62 243.65,386.18 244.03,386.78 244.41,387.44 244.80,388.14 245.18,388.90 245.56,389.70 245.95,390.56 246.33,391.46 246.71,392.42 247.09,393.42 247.48,394.47 247.86,395.57 248.24,396.72 248.63,397.91 249.01,399.15 249.39,400.44 249.78,401.77 250.16,403.15 250.54,404.57 250.92,406.03 251.31,407.54 251.69,409.08 252.07,410.67 252.46,412.30 252.84,413.96 253.22,415.66 253.60,417.40 253.99,419.17 254.37,420.97 254.75,422.81 255.14,424.67 255.52,426.56 255.90,428.48 256.29,430.43 256.67,432.40 257.05,434.38 257.43,436.39 257.82,438.42 258.20,440.46 258.58,442.51 258.97,444.58 259.35,446.66 259.73,448.74 260.12,450.83 260.50,452.92 260.88,455.02 261.26,457.11 261.65,459.20 262.03,461.29 262.41,463.37 262.80,465.43 263.18,467.49 263.56,469.53 263.95,471.55 264.33,473.56 264.71,475.54 265.09,477.50 265.48,479.44 265.86,481.34 266.24,483.22 266.63,485.06 267.01,486.87 267.39,488.64 267.77,490.37 268.16,492.06 268.54,493.70 268.92,495.30 269.31,496.85 269.69,498.35 270.07,499.79 270.46,501.18 270.84,502.52 271.22,503.79 271.60,505.01 271.99,506.16 272.37,507.24 272.75,508.26 273.14,509.22 273.52,510.10 273.90,510.91 274.29,511.64 274.67,512.30 275.05,512.89 275.43,513.39 275.82,513.82 276.20,514.16 276.58,514.43 276.97,514.60 277.35,514.70 277.73,514.71 278.12,514.63 278.50,514.46 278.88,514.21 279.26,513.86 279.65,513.43 280.03,512.90 280.41,512.29 280.80,511.58 281.18,510.78 281.56,509.89 281.95,508.90 282.33,507.82 282.71,506.66 283.09,505.39 283.48,504.04 283.86,502.60 284.24,501.06 284.63,499.44 285.01,497.72 285.39,495.92 285.77,494.03 286.16,492.05 286.54,489.99 286.92,487.84 287.31,485.61 287.69,483.30 288.07,480.91 288.46,478.45 288.84,475.91 289.22,473.29 289.60,470.61 289.99,467.86 290.37,465.04 290.75,462.16 291.14,459.22 291.52,456.22 291.90,453.17 292.29,450.07 292.67,446.92 293.05,443.73 293.43,440.51 293.82,437.24 294.20,433.95 294.58,430.63 294.97,427.28 295.35,423.92 295.73,420.55 296.12,417.17 296.50,413.78 296.88,410.40 297.26,407.02 297.65,403.65 298.03,400.30 298.41,396.97 298.80,393.66 299.18,390.38 299.56,387.14 299.94,383.94 300.33,380.79 300.71,377.69 301.09,374.64 301.48,371.65 301.86,368.73 302.24,365.88 302.63,363.11 303.01,360.41 303.39,357.80 303.77,355.27 304.16,352.84 304.54,350.51 304.92,348.28 305.31,346.15 305.69,344.14 306.07,342.23 306.46,340.45 306.84,338.78 307.22,337.24 307.60,335.82 307.99,334.53 308.37,333.38 308.75,332.36 309.14,331.48 309.52,330.73 309.90,330.13 310.29,329.67 310.67,329.36 311.05,329.19 311.43,329.16 311.82,329.28 312.20,329.55 312.58,329.96 312.97,330.53 313.35,331.23 313.73,332.08 314.12,333.08 314.50,334.21 314.88,335.49 315.26,336.90 315.65,338.45 316.03,340.13 316.41,341.94 316.80,343.87 317.18,345.92 317.56,348.09 317.94,350.36 318.33,352.75 318.71,355.23 319.09,357.80 319.48,360.46 319.86,363.20 320.24,366.01 320.63,368.88 321.01,371.80 321.39,374.77 321.77,377.77 322.16,380.80 322.54,383.84 322.92,386.88 323.31,389.92 323.69,392.93 324.07,395.91 324.46,398.84 324.84,401.70 325.22,404.49 325.60,407.19 325.99,409.78 326.37,412.24 326.75,414.57 327.14,416.73 327.52,418.72 327.90,420.50 328.29,422.08 328.67,423.41 329.05,424.49 329.43,425.28 329.82,425.78 330.20,425.95" fill="none" stroke="#0000ff" stroke-width="2.4" stroke-linejoin="round" stroke-linecap="round"/>
<g transform="translate(0,550.80) scale(1,1.06)"><text x="57.69" y="0">0</text></g>
<g transform="translate(0,550.80) scale(1,1.06)"><text x="121.43" y="0">5</text></g>
<g transform="translate(0,550.80) scale(1,1.06)"><text x="180.35" y="0"><tspan style="fill:none">1</tspan>0</text><path transform="translate(180.35,0) scale(0.00845,-0.00845)" d="M763,0L583,0L583,1120Q518,1062 412,1004Q306,946 190,912L190,1085Q373,1160 486,1250Q590,1340 636,1420L763,1420Z"/></g>
<g transform="translate(0,550.80) scale(1,1.06)"><text x="244.09" y="0"><tspan style="fill:none">1</tspan>5</text><path transform="translate(244.09,0) scale(0.00845,-0.00845)" d="M763,0L583,0L583,1120Q518,1062 412,1004Q306,946 190,912L190,1085Q373,1160 486,1250Q590,1340 636,1420L763,1420Z"/></g>
<g transform="translate(0,550.80) scale(1,1.06)"><text x="307.83" y="0">20</text></g>
<g transform="translate(0,533.60) scale(1,1.06)"><text x="26.69" y="0">-0.2</text></g>
<g transform="translate(0,483.33) scale(1,1.06)"><text x="26.69" y="0">-0.<tspan style="fill:none">1</tspan></text><path transform="translate(46.88,0) scale(0.00845,-0.00845)" d="M763,0L583,0L583,1120Q518,1062 412,1004Q306,946 190,912L190,1085Q373,1160 486,1250Q590,1340 636,1420L763,1420Z"/></g>
<g transform="translate(0,433.05) scale(1,1.06)"><text x="46.88" y="0">0</text></g>
<g transform="translate(0,382.77) scale(1,1.06)"><text x="32.45" y="0">0.<tspan style="fill:none">1</tspan></text><path transform="translate(46.88,0) scale(0.00845,-0.00845)" d="M763,0L583,0L583,1120Q518,1062 412,1004Q306,946 190,912L190,1085Q373,1160 486,1250Q590,1340 636,1420L763,1420Z"/></g>
<g transform="translate(0,332.50) scale(1,1.06)"><text x="32.45" y="0">0.2</text></g>
<text x="196.35" y="576.58" text-anchor="middle" style="font-size:19.3px">Time (s)</text>
<text transform="translate(19.90,424.65) rotate(-90)" text-anchor="middle" style="font-size:19.3px"><tspan style="letter-spacing:-0.25px">Acceleration</tspan> (°/s<tspan dy="-9.5" style="font-size:13.4px">2</tspan><tspan dy="9.5" dx="2.7">)</tspan></text>
<line x1="478.68" y1="325.3" x2="478.68" y2="526.5" stroke="#e3e3e3" stroke-width="1"/>
<line x1="542.65" y1="325.3" x2="542.65" y2="526.5" stroke="#e3e3e3" stroke-width="1"/>
<line x1="606.63" y1="325.3" x2="606.63" y2="526.5" stroke="#e3e3e3" stroke-width="1"/>
<line x1="670.60" y1="325.3" x2="670.60" y2="526.5" stroke="#e3e3e3" stroke-width="1"/>
<line x1="414.7" y1="525.70" x2="683.4" y2="525.70" stroke="#e3e3e3" stroke-width="1"/>
<line x1="414.7" y1="478.46" x2="683.4" y2="478.46" stroke="#e3e3e3" stroke-width="1"/>
<line x1="414.7" y1="431.21" x2="683.4" y2="431.21" stroke="#e3e3e3" stroke-width="1"/>
<line x1="414.7" y1="383.97" x2="683.4" y2="383.97" stroke="#e3e3e3" stroke-width="1"/>
<line x1="414.7" y1="336.73" x2="683.4" y2="336.73" stroke="#e3e3e3" stroke-width="1"/>
<rect x="414.7" y="325.3" width="268.70" height="201.20" fill="none" stroke="#4d4d4d" stroke-width="1.45"/>
<path d="M414.70,526.5v-2.7M414.70,325.3v2.7M478.68,526.5v-2.7M478.68,325.3v2.7M542.65,526.5v-2.7M542.65,325.3v2.7M606.63,526.5v-2.7M606.63,325.3v2.7M670.60,526.5v-2.7M670.60,325.3v2.7M414.7,525.70h2.7M683.4,525.70h-2.7M414.7,478.46h2.7M683.4,478.46h-2.7M414.7,431.21h2.7M683.4,431.21h-2.7M414.7,383.97h2.7M683.4,383.97h-2.7M414.7,336.73h2.7M683.4,336.73h-2.7" stroke="#4d4d4d" stroke-width="1.45"/>
<clipPath id="csp4"><rect x="412.7" y="323.3" width="272.7" height="205.2"/></clipPath>
<polyline clip-path="url(#csp4)" points="414.70,431.21 415.08,427.31 415.45,423.63 415.83,420.17 416.21,416.93 416.59,413.90 416.96,411.08 417.34,408.46 417.72,406.03 418.10,403.80 418.47,401.74 418.85,399.87 419.23,398.17 419.61,396.64 419.98,395.27 420.36,394.06 420.74,393.00 421.12,392.09 421.49,391.33 421.87,390.70 422.25,390.20 422.63,389.84 423.00,389.60 423.38,389.48 423.76,389.47 424.14,389.58 424.51,389.79 424.89,390.10 425.27,390.51 425.65,391.02 426.02,391.61 426.40,392.29 426.78,393.05 427.16,393.89 427.53,394.80 427.91,395.78 428.29,396.83 428.67,397.94 429.04,399.10 429.42,400.33 429.80,401.60 430.18,402.92 430.55,404.28 430.93,405.69 431.31,407.13 431.69,408.60 432.06,410.11 432.44,411.65 432.82,413.21 433.19,414.79 433.57,416.39 433.95,418.00 434.33,419.63 434.70,421.27 435.08,422.92 435.46,424.57 435.84,426.23 436.21,427.88 436.59,429.54 436.97,431.18 437.35,432.82 437.72,434.46 438.10,436.07 438.48,437.68 438.86,439.27 439.23,440.84 439.61,442.39 439.99,443.92 440.37,445.42 440.74,446.90 441.12,448.35 441.50,449.78 441.88,451.17 442.25,452.53 442.63,453.86 443.01,455.15 443.39,456.40 443.76,457.62 444.14,458.80 444.52,459.93 444.90,461.03 445.27,462.08 445.65,463.09 446.03,464.06 446.41,464.98 446.78,465.85 447.16,466.68 447.54,467.46 447.92,468.19 448.29,468.88 448.67,469.51 449.05,470.09 449.43,470.63 449.80,471.11 450.18,471.54 450.56,471.93 450.94,472.26 451.31,472.54 451.69,472.76 452.07,472.94 452.44,473.07 452.82,473.14 453.20,473.16 453.58,473.14 453.95,473.06 454.33,472.93 454.71,472.76 455.09,472.53 455.46,472.26 455.84,471.94 456.22,471.57 456.60,471.15 456.97,470.69 457.35,470.19 457.73,469.64 458.11,469.05 458.48,468.42 458.86,467.74 459.24,467.03 459.62,466.28 459.99,465.50 460.37,464.68 460.75,463.82 461.13,462.93 461.50,462.01 461.88,461.06 462.26,460.09 462.64,459.09 463.01,458.06 463.39,457.01 463.77,455.94 464.15,454.86 464.52,453.75 464.90,452.63 465.28,451.50 465.66,450.37 466.03,449.22 466.41,448.07 466.79,446.91 467.17,445.75 467.54,444.60 467.92,443.44 468.30,442.30 468.68,441.16 469.05,440.03 469.43,438.91 469.81,437.80 470.18,436.71 470.56,435.63 470.94,434.57 471.32,433.53 471.69,432.52 472.07,431.52 472.45,430.55 472.83,429.60 473.20,428.68 473.58,427.78 473.96,426.92 474.34,426.08 474.71,425.27 475.09,424.50 475.47,423.75 475.85,423.04 476.22,422.37 476.60,421.73 476.98,421.12 477.36,420.55 477.73,420.02 478.11,419.52 478.49,419.06 478.87,418.64 479.24,418.25 479.62,417.90 480.00,417.60 480.38,417.33 480.75,417.10 481.13,416.90 481.51,416.75 481.89,416.63 482.26,416.55 482.64,416.51 483.02,416.51 483.40,416.54 483.77,416.61 484.15,416.72 484.53,416.86 484.91,417.04 485.28,417.26 485.66,417.50 486.04,417.78 486.42,418.09 486.79,418.44 487.17,418.81 487.55,419.21 487.93,419.64 488.30,420.10 488.68,420.59 489.06,421.09 489.43,421.63 489.81,422.18 490.19,422.76 490.57,423.35 490.94,423.96 491.32,424.59 491.70,425.23 492.08,425.89 492.45,426.55 492.83,427.23 493.21,427.91 493.59,428.59 493.96,429.28 494.34,429.98 494.72,430.67 495.10,431.35 495.47,432.04 495.85,432.71 496.23,433.38 496.61,434.04 496.98,434.69 497.36,435.32 497.74,435.94 498.12,436.55 498.49,437.14 498.87,437.70 499.25,438.25 499.63,438.78 500.00,439.29 500.38,439.78 500.76,440.24 501.14,440.67 501.51,441.08 501.89,441.47 502.27,441.83 502.65,442.16 503.02,442.46 503.40,442.73 503.78,442.97 504.16,443.18 504.53,443.37 504.91,443.52 505.29,443.64 505.67,443.73 506.04,443.79 506.42,443.81 506.80,443.81 507.17,443.77 507.55,443.71 507.93,443.61 508.31,443.48 508.68,443.33 509.06,443.14 509.44,442.92 509.82,442.67 510.19,442.40 510.57,442.09 510.95,441.76 511.33,441.41 511.70,441.02 512.08,440.61 512.46,440.18 512.84,439.73 513.21,439.25 513.59,438.75 513.97,438.23 514.35,437.69 514.72,437.14 515.10,436.57 515.48,435.98 515.86,435.39 516.23,434.77 516.61,434.15 516.99,433.53 517.37,432.89 517.74,432.25 518.12,431.60 518.50,430.96 518.88,430.31 519.25,429.66 519.63,429.02 520.01,428.38 520.39,427.75 520.76,427.12 521.14,426.51 521.52,425.90 521.90,425.30 522.27,424.72 522.65,424.14 523.03,423.59 523.41,423.04 523.78,422.52 524.16,422.01 524.54,421.52 524.92,421.05 525.29,420.60 525.67,420.17 526.05,419.76 526.42,419.37 526.80,419.01 527.18,418.67 527.56,418.36 527.93,418.07 528.31,417.80 528.69,417.56 529.07,417.35 529.44,417.17 529.82,417.01 530.20,416.88 530.58,416.77 530.95,416.70 531.33,416.65 531.71,416.63 532.09,416.64 532.46,416.68 532.84,416.74 533.22,416.84 533.60,416.96 533.97,417.11 534.35,417.29 534.73,417.49 535.11,417.73 535.48,417.99 535.86,418.27 536.24,418.59 536.62,418.93 536.99,419.29 537.37,419.68 537.75,420.10 538.13,420.54 538.50,421.00 538.88,421.49 539.26,421.99 539.64,422.52 540.01,423.07 540.39,423.64 540.77,424.22 541.15,424.83 541.52,425.45 541.90,426.08 542.28,426.74 542.66,427.40 543.03,428.08 543.41,428.77 543.79,429.46 544.16,430.17 544.54,430.89 544.92,431.61 545.30,432.33 545.67,433.06 546.05,433.80 546.43,434.53 546.81,435.26 547.18,436.00 547.56,436.73 547.94,437.46 548.32,438.18 548.69,438.90 549.07,439.62 549.45,440.33 549.83,441.03 550.20,441.72 550.58,442.40 550.96,443.07 551.34,443.73 551.71,444.37 552.09,445.01 552.47,445.63 552.85,446.23 553.22,446.82 553.60,447.40 553.98,447.95 554.36,448.49 554.73,449.01 555.11,449.51 555.49,450.00 555.87,450.46 556.24,450.90 556.62,451.32 557.00,451.72 557.38,452.09 557.75,452.44 558.13,452.77 558.51,453.08 558.89,453.36 559.26,453.61 559.64,453.84 560.02,454.05 560.40,454.23 560.77,454.38 561.15,454.51 561.53,454.61 561.91,454.68 562.28,454.72 562.66,454.74 563.04,454.73 563.41,454.69 563.79,454.62 564.17,454.53 564.55,454.41 564.92,454.26 565.30,454.07 565.68,453.87 566.06,453.63 566.43,453.36 566.81,453.07 567.19,452.74 567.57,452.39 567.94,452.01 568.32,451.60 568.70,451.16 569.08,450.70 569.45,450.20 569.83,449.68 570.21,449.13 570.59,448.56 570.96,447.95 571.34,447.32 571.72,446.67 572.10,445.98 572.47,445.27 572.85,444.54 573.23,443.78 573.61,442.99 573.98,442.18 574.36,441.35 574.74,440.49 575.12,439.61 575.49,438.71 575.87,437.78 576.25,436.84 576.63,435.87 577.00,434.88 577.38,433.87 577.76,432.85 578.14,431.80 578.51,430.74 578.89,429.66 579.27,428.56 579.65,427.45 580.02,426.33 580.40,425.19 580.78,424.03 581.15,422.87 581.53,421.70 581.91,420.51 582.29,419.31 582.66,418.11 583.04,416.90 583.42,415.69 583.80,414.46 584.17,413.24 584.55,412.01 584.93,410.78 585.31,409.55 585.68,408.32 586.06,407.09 586.44,405.86 586.82,404.64 587.19,403.43 587.57,402.22 587.95,401.02 588.33,399.82 588.70,398.64 589.08,397.47 589.46,396.32 589.84,395.18 590.21,394.06 590.59,392.95 590.97,391.87 591.35,390.81 591.72,389.77 592.10,388.75 592.48,387.76 592.86,386.80 593.23,385.87 593.61,384.97 593.99,384.10 594.37,383.27 594.74,382.47 595.12,381.71 595.50,380.99 595.88,380.32 596.25,379.68 596.63,379.09 597.01,378.55 597.39,378.06 597.76,377.61 598.14,377.21 598.52,376.87 598.90,376.57 599.27,376.33 599.65,376.15 600.03,376.01 600.40,375.94 600.78,375.92 601.16,375.96 601.54,376.05 601.91,376.20 602.29,376.41 602.67,376.68 603.05,377.01 603.42,377.40 603.80,377.85 604.18,378.35 604.56,378.92 604.93,379.54 605.31,380.22 605.69,380.96 606.07,381.76 606.44,382.62 606.82,383.54 607.20,384.51 607.58,385.54 607.95,386.62 608.33,387.76 608.71,388.95 609.09,390.20 609.46,391.50 609.84,392.85 610.22,394.25 610.60,395.70 610.97,397.19 611.35,398.73 611.73,400.32 612.11,401.95 612.48,403.62 612.86,405.33 613.24,407.08 613.62,408.87 613.99,410.69 614.37,412.55 614.75,414.43 615.13,416.35 615.50,418.29 615.88,420.26 616.26,422.24 616.64,424.25 617.01,426.28 617.39,428.32 617.77,430.37 618.14,432.43 618.52,434.50 618.90,436.58 619.28,438.65 619.65,440.73 620.03,442.80 620.41,444.86 620.79,446.91 621.16,448.95 621.54,450.97 621.92,452.97 622.30,454.94 622.67,456.89 623.05,458.81 623.43,460.69 623.81,462.53 624.18,464.34 624.56,466.09 624.94,467.80 625.32,469.45 625.69,471.04 626.07,472.57 626.45,474.04 626.83,475.43 627.20,476.75 627.58,477.99 627.96,479.14 628.34,480.20 628.71,481.18 629.09,482.05 629.47,482.82 629.85,483.48 630.22,484.03 630.60,484.46 630.98,484.77 631.36,484.95 631.73,485.00 632.11,484.91 632.49,484.67 632.87,484.29 633.24,483.75 633.62,483.05 634.00,482.18 634.38,481.14 634.75,479.92 635.13,478.52 635.51,476.93 635.89,475.15 636.26,473.16 636.64,470.96 637.02,468.55 637.39,465.92 637.77,463.06 638.15,459.96 638.53,456.63 638.90,453.05 639.28,449.22 639.66,445.12 640.04,440.76 640.41,436.13 640.79,431.21" fill="none" stroke="#ff0000" stroke-width="2.4" stroke-linejoin="round" stroke-linecap="round"/>
<polyline clip-path="url(#csp4)" points="414.70,431.21 415.08,421.80 415.47,413.04 415.85,404.91 416.24,397.40 416.62,390.48 417.01,384.15 417.39,378.37 417.78,373.13 418.16,368.41 418.54,364.20 418.93,360.47 419.31,357.21 419.70,354.41 420.08,352.04 420.47,350.09 420.85,348.54 421.23,347.37 421.62,346.58 422.00,346.14 422.39,346.03 422.77,346.26 423.16,346.79 423.54,347.61 423.93,348.71 424.31,350.08 424.69,351.70 425.08,353.56 425.46,355.64 425.85,357.93 426.23,360.42 426.62,363.09 427.00,365.94 427.39,368.95 427.77,372.10 428.15,375.39 428.54,378.81 428.92,382.34 429.31,385.97 429.69,389.70 430.08,393.50 430.46,397.38 430.85,401.32 431.23,405.31 431.61,409.34 432.00,413.40 432.38,417.48 432.77,421.58 433.15,425.69 433.54,429.79 433.92,433.89 434.30,437.96 434.69,442.01 435.07,446.02 435.46,450.00 435.84,453.93 436.23,457.80 436.61,461.61 437.00,465.36 437.38,469.03 437.76,472.63 438.15,476.14 438.53,479.57 438.92,482.90 439.30,486.13 439.69,489.26 440.07,492.28 440.46,495.20 440.84,497.99 441.22,500.68 441.61,503.24 441.99,505.67 442.38,507.98 442.76,510.16 443.15,512.21 443.53,514.13 443.91,515.91 444.30,517.56 444.68,519.07 445.07,520.44 445.45,521.67 445.84,522.76 446.22,523.71 446.61,524.52 446.99,525.19 447.37,525.73 447.76,526.12 448.14,526.38 448.53,526.50 448.91,526.49 449.30,526.34 449.68,526.06 450.07,525.66 450.45,525.12 450.83,524.47 451.22,523.69 451.60,522.80 451.99,521.79 452.37,520.67 452.76,519.45 453.14,518.12 453.53,516.69 453.91,515.18 454.29,513.57 454.68,511.88 455.06,510.10 455.45,508.26 455.83,506.34 456.22,504.35 456.60,502.30 456.98,500.19 457.37,498.02 457.75,495.80 458.14,493.53 458.52,491.22 458.91,488.87 459.29,486.48 459.68,484.05 460.06,481.60 460.44,479.12 460.83,476.61 461.21,474.09 461.60,471.54 461.98,468.99 462.37,466.42 462.75,463.85 463.14,461.27 463.52,458.68 463.90,456.10 464.29,453.53 464.67,450.96 465.06,448.39 465.44,445.84 465.83,443.31 466.21,440.79 466.59,438.29 466.98,435.81 467.36,433.35 467.75,430.93 468.13,428.52 468.52,426.15 468.90,423.81 469.29,421.51 469.67,419.24 470.05,417.01 470.44,414.82 470.82,412.67 471.21,410.56 471.59,408.50 471.98,406.48 472.36,404.51 472.75,402.59 473.13,400.72 473.51,398.91 473.90,397.14 474.28,395.43 474.67,393.77 475.05,392.17 475.44,390.63 475.82,389.14 476.21,387.72 476.59,386.35 476.97,385.04 477.36,383.80 477.74,382.61 478.13,381.49 478.51,380.43 478.90,379.43 479.28,378.50 479.66,377.63 480.05,376.82 480.43,376.08 480.82,375.40 481.20,374.78 481.59,374.23 481.97,373.74 482.36,373.32 482.74,372.96 483.12,372.66 483.51,372.42 483.89,372.25 484.28,372.14 484.66,372.09 485.05,372.10 485.43,372.17 485.82,372.30 486.20,372.49 486.58,372.74 486.97,373.04 487.35,373.40 487.74,373.81 488.12,374.28 488.51,374.80 488.89,375.37 489.27,375.99 489.66,376.66 490.04,377.37 490.43,378.13 490.81,378.94 491.20,379.79 491.58,380.68 491.97,381.60 492.35,382.57 492.73,383.57 493.12,384.60 493.50,385.67 493.89,386.77 494.27,387.89 494.66,389.05 495.04,390.23 495.43,391.43 495.81,392.66 496.19,393.91 496.58,395.17 496.96,396.46 497.35,397.76 497.73,399.08 498.12,400.41 498.50,401.76 498.88,403.12 499.27,404.48 499.65,405.86 500.04,407.24 500.42,408.63 500.81,410.02 501.19,411.42 501.58,412.81 501.96,414.21 502.34,415.61 502.73,417.01 503.11,418.41 503.50,419.80 503.88,421.19 504.27,422.57 504.65,423.95 505.04,425.32 505.42,426.68 505.80,428.03 506.19,429.37 506.57,430.70 506.96,432.02 507.34,433.32 507.73,434.61 508.11,435.89 508.50,437.15 508.88,438.39 509.26,439.62 509.65,440.83 510.03,442.02 510.42,443.19 510.80,444.34 511.19,445.47 511.57,446.58 511.95,447.66 512.34,448.73 512.72,449.77 513.11,450.78 513.49,451.78 513.88,452.74 514.26,453.69 514.65,454.60 515.03,455.49 515.41,456.36 515.80,457.20 516.18,458.01 516.57,458.79 516.95,459.54 517.34,460.27 517.72,460.97 518.11,461.64 518.49,462.28 518.87,462.89 519.26,463.47 519.64,464.02 520.03,464.54 520.41,465.03 520.80,465.49 521.18,465.92 521.56,466.32 521.95,466.69 522.33,467.03 522.72,467.34 523.10,467.62 523.49,467.87 523.87,468.09 524.26,468.28 524.64,468.43 525.02,468.56 525.41,468.66 525.79,468.73 526.18,468.77 526.56,468.78 526.95,468.76 527.33,468.71 527.72,468.64 528.10,468.53 528.48,468.40 528.87,468.24 529.25,468.05 529.64,467.84 530.02,467.60 530.41,467.33 530.79,467.04 531.18,466.73 531.56,466.39 531.94,466.02 532.33,465.63 532.71,465.22 533.10,464.79 533.48,464.33 533.87,463.85 534.25,463.35 534.63,462.83 535.02,462.28 535.40,461.72 535.79,461.14 536.17,460.54 536.56,459.92 536.94,459.28 537.33,458.62 537.71,457.95 538.09,457.26 538.48,456.55 538.86,455.83 539.25,455.09 539.63,454.34 540.02,453.57 540.40,452.79 540.79,451.99 541.17,451.19 541.55,450.36 541.94,449.53 542.32,448.69 542.71,447.83 543.09,446.97 543.48,446.09 543.86,445.21 544.24,444.31 544.63,443.41 545.01,442.50 545.40,441.58 545.78,440.65 546.17,439.72 546.55,438.78 546.94,437.84 547.32,436.89 547.70,435.94 548.09,434.98 548.47,434.02 548.86,433.06 549.24,432.09 549.63,431.13 550.01,430.16 550.40,429.19 550.78,428.22 551.16,427.25 551.55,426.29 551.93,425.32 552.32,424.35 552.70,423.39 553.09,422.43 553.47,421.48 553.86,420.53 554.24,419.58 554.62,418.64 555.01,417.71 555.39,416.78 555.78,415.86 556.16,414.95 556.55,414.04 556.93,413.14 557.31,412.26 557.70,411.38 558.08,410.51 558.47,409.66 558.85,408.81 559.24,407.98 559.62,407.16 560.01,406.35 560.39,405.56 560.77,404.78 561.16,404.02 561.54,403.27 561.93,402.54 562.31,401.83 562.70,401.13 563.08,400.46 563.47,399.80 563.85,399.16 564.23,398.54 564.62,397.94 565.00,397.36 565.39,396.80 565.77,396.27 566.16,395.76 566.54,395.27 566.92,394.81 567.31,394.37 567.69,393.96 568.08,393.57 568.46,393.21 568.85,392.88 569.23,392.58 569.62,392.30 570.00,392.05 570.38,391.84 570.77,391.65 571.15,391.49 571.54,391.37 571.92,391.28 572.31,391.21 572.69,391.18 573.08,391.19 573.46,391.22 573.84,391.29 574.23,391.40 574.61,391.53 575.00,391.70 575.38,391.91 575.77,392.14 576.15,392.42 576.54,392.72 576.92,393.07 577.30,393.44 577.69,393.85 578.07,394.30 578.46,394.78 578.84,395.29 579.23,395.84 579.61,396.42 579.99,397.04 580.38,397.69 580.76,398.37 581.15,399.09 581.53,399.84 581.92,400.63 582.30,401.44 582.69,402.29 583.07,403.17 583.45,404.08 583.84,405.03 584.22,406.00 584.61,407.01 584.99,408.04 585.38,409.10 585.76,410.20 586.15,411.32 586.53,412.46 586.91,413.64 587.30,414.84 587.68,416.07 588.07,417.32 588.45,418.59 588.84,419.89 589.22,421.21 589.60,422.55 589.99,423.92 590.37,425.30 590.76,426.71 591.14,428.13 591.53,429.57 591.91,431.02 592.30,432.49 592.68,433.97 593.06,435.47 593.45,436.98 593.83,438.50 594.22,440.03 594.60,441.57 594.99,443.12 595.37,444.67 595.76,446.23 596.14,447.80 596.52,449.36 596.91,450.93 597.29,452.49 597.68,454.06 598.06,455.62 598.45,457.18 598.83,458.73 599.22,460.27 599.60,461.81 599.98,463.33 600.37,464.85 600.75,466.35 601.14,467.83 601.52,469.30 601.91,470.75 602.29,472.18 602.67,473.59 603.06,474.97 603.44,476.33 603.83,477.66 604.21,478.96 604.60,480.23 604.98,481.47 605.37,482.68 605.75,483.85 606.13,484.98 606.52,486.06 606.90,487.11 607.29,488.11 607.67,489.07 608.06,489.98 608.44,490.83 608.83,491.64 609.21,492.39 609.59,493.09 609.98,493.73 610.36,494.31 610.75,494.83 611.13,495.29 611.52,495.69 611.90,496.03 612.28,496.30 612.67,496.50 613.05,496.64 613.44,496.72 613.82,496.72 614.21,496.66 614.59,496.52 614.98,496.32 615.36,496.05 615.74,495.70 616.13,495.29 616.51,494.80 616.90,494.24 617.28,493.61 617.67,492.90 618.05,492.13 618.44,491.28 618.82,490.36 619.20,489.37 619.59,488.30 619.97,487.17 620.36,485.96 620.74,484.69 621.13,483.34 621.51,481.93 621.89,480.45 622.28,478.90 622.66,477.28 623.05,475.60 623.43,473.85 623.82,472.04 624.20,470.16 624.59,468.22 624.97,466.23 625.35,464.17 625.74,462.06 626.12,459.89 626.51,457.67 626.89,455.39 627.28,453.06 627.66,450.68 628.05,448.26 628.43,445.79 628.81,443.27 629.20,440.71 629.58,438.12 629.97,435.49 630.35,432.82 630.74,430.12 631.12,427.38 631.51,424.62 631.89,421.84 632.27,419.03 632.66,416.20 633.04,413.36 633.43,410.50 633.81,407.63 634.20,404.75 634.58,401.86 634.96,398.98 635.35,396.09 635.73,393.21 636.12,390.33 636.50,387.47 636.89,384.62 637.27,381.79 637.66,378.98 638.04,376.19 638.42,373.44 638.81,370.71 639.19,368.03 639.58,365.38 639.96,362.78 640.35,360.23 640.73,357.73 641.12,355.28 641.50,352.90 641.88,350.59 642.27,348.34 642.65,346.17 643.04,344.09 643.42,342.08 643.81,340.16 644.19,338.34 644.57,336.62 644.96,335.00 645.34,333.49 645.73,332.09 646.11,330.82 646.50,329.66 646.88,328.64 647.27,327.74 647.65,326.98 648.03,326.35 648.42,325.87 648.80,325.53 649.19,325.34 649.57,325.30 649.96,325.41 650.34,325.67 650.73,326.08 651.11,326.65 651.49,327.38 651.88,328.26 652.26,329.29 652.65,330.49 653.03,331.84 653.42,333.35 653.80,335.01 654.19,336.83 654.57,338.80 654.95,340.92 655.34,343.19 655.72,345.60 656.11,348.17 656.49,350.87 656.88,353.71 657.26,356.69 657.64,359.80 658.03,363.04 658.41,366.40 658.80,369.89 659.18,373.49 659.57,377.20 659.95,381.01 660.34,384.92 660.72,388.93 661.10,393.03 661.49,397.21 661.87,401.46 662.26,405.78 662.64,410.16 663.03,414.60 663.41,419.08 663.80,423.60 664.18,428.15 664.56,432.72 664.95,437.30 665.33,441.89 665.72,446.47 666.10,451.03 666.49,455.57 666.87,460.08 667.25,464.54 667.64,468.94 668.02,473.28 668.41,477.53 668.79,481.70 669.18,485.76 669.56,489.71 669.95,493.53 670.33,497.22 670.71,500.75 671.10,504.11 671.48,507.30 671.87,510.30 672.25,513.08 672.64,515.65 673.02,517.98 673.41,520.07 673.79,521.88 674.17,523.42 674.56,524.66 674.94,525.58 675.33,526.18 675.71,526.44 676.10,526.33 676.48,525.84 676.87,524.96 677.25,523.66 677.63,521.93 678.02,519.75 678.40,517.11 678.79,513.97 679.17,510.33 679.56,506.17 679.94,501.46 680.32,496.19 680.71,490.33 681.09,483.87 681.48,476.78 681.86,469.04 682.25,460.64 682.63,451.55 683.02,441.75 683.40,431.21" fill="none" stroke="#0000ff" stroke-width="2.4" stroke-linejoin="round" stroke-linecap="round"/>
<g transform="translate(0,550.80) scale(1,1.06)"><text x="409.89" y="0">0</text></g>
<g transform="translate(0,550.80) scale(1,1.06)"><text x="473.87" y="0">5</text></g>
<g transform="translate(0,550.80) scale(1,1.06)"><text x="533.03" y="0"><tspan style="fill:none">1</tspan>0</text><path transform="translate(533.03,0) scale(0.00845,-0.00845)" d="M763,0L583,0L583,1120Q518,1062 412,1004Q306,946 190,912L190,1085Q373,1160 486,1250Q590,1340 636,1420L763,1420Z"/></g>
<g transform="translate(0,550.80) scale(1,1.06)"><text x="597.01" y="0"><tspan style="fill:none">1</tspan>5</text><path transform="translate(597.01,0) scale(0.00845,-0.00845)" d="M763,0L583,0L583,1120Q518,1062 412,1004Q306,946 190,912L190,1085Q373,1160 486,1250Q590,1340 636,1420L763,1420Z"/></g>
<g transform="translate(0,550.80) scale(1,1.06)"><text x="660.98" y="0">20</text></g>
<g transform="translate(0,532.80) scale(1,1.06)"><text x="378.89" y="0">-0.2</text></g>
<g transform="translate(0,485.56) scale(1,1.06)"><text x="378.89" y="0">-0.<tspan style="fill:none">1</tspan></text><path transform="translate(399.08,0) scale(0.00845,-0.00845)" d="M763,0L583,0L583,1120Q518,1062 412,1004Q306,946 190,912L190,1085Q373,1160 486,1250Q590,1340 636,1420L763,1420Z"/></g>
<g transform="translate(0,438.31) scale(1,1.06)"><text x="399.08" y="0">0</text></g>
<g transform="translate(0,391.07) scale(1,1.06)"><text x="384.65" y="0">0.<tspan style="fill:none">1</tspan></text><path transform="translate(399.08,0) scale(0.00845,-0.00845)" d="M763,0L583,0L583,1120Q518,1062 412,1004Q306,946 190,912L190,1085Q373,1160 486,1250Q590,1340 636,1420L763,1420Z"/></g>
<g transform="translate(0,343.83) scale(1,1.06)"><text x="384.65" y="0">0.2</text></g>
<text x="549.05" y="576.58" text-anchor="middle" style="font-size:19.3px">Time (s)</text>
<text transform="translate(371.60,425.00) rotate(-90)" text-anchor="middle" style="font-size:19.3px"><tspan style="letter-spacing:-0.5px">Jerk</tspan> (°/s<tspan dy="-9.5" style="font-size:13.4px">3</tspan><tspan dy="9.5" dx="1.2">)</tspan></text>
<rect x="177" y="0.8" width="399.2" height="25.6" fill="#fff" stroke="#4d4d4d" stroke-width="1.45"/>
<line x1="182.6" y1="13.5" x2="239.8" y2="13.5" stroke="#ff0000" stroke-width="2.4"/>
<text x="243.8" y="18.6" style="font-size:15.65px">After optimization</text>
<line x1="376.1" y1="13.5" x2="432.8" y2="13.5" stroke="#0000ff" stroke-width="2.4"/>
<text x="436.1" y="18.6" style="font-size:15.65px">Before optimization</text>
</svg>
</body></html>
